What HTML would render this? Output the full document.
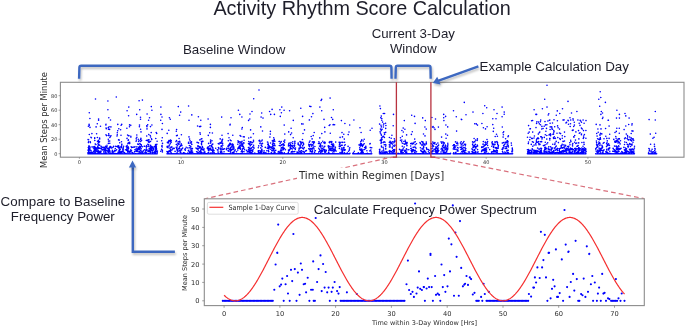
<!DOCTYPE html>
<html><head><meta charset="utf-8"><style>
html,body{margin:0;padding:0;background:#fff;}
svg{display:block;}
</style></head><body>
<svg width="685" height="327" viewBox="0 0 685 327">
<rect width="685" height="327" fill="#fff"/>
<defs>
<filter id="sh" x="-20%" y="-20%" width="140%" height="160%"><feGaussianBlur in="SourceAlpha" stdDeviation="1"/><feOffset dx="0.5" dy="1.5"/><feComponentTransfer><feFuncA type="linear" slope="0.25"/></feComponentTransfer><feMerge><feMergeNode/><feMergeNode in="SourceGraphic"/></feMerge></filter>
</defs>
<!-- title -->
<text x="213.4" y="15.2" style='font-family:"Liberation Sans",Arial,sans-serif' font-size="19.8" fill="#1e1e2a" textLength="297.3" lengthAdjust="spacingAndGlyphs">Activity Rhythm Score Calculation</text>
<g style='font-family:"Liberation Sans",Arial,sans-serif' font-size="13.35" fill="#1e1e2a">
<text x="182.9" y="53.6" textLength="102.5" lengthAdjust="spacingAndGlyphs">Baseline Window</text>
<text x="371.7" y="38.2" textLength="83.2" lengthAdjust="spacingAndGlyphs">Current 3-Day</text>
<text x="390" y="53.3" textLength="46.6" lengthAdjust="spacingAndGlyphs">Window</text>
<text x="479.6" y="70.8" textLength="149.3" lengthAdjust="spacingAndGlyphs">Example Calculation Day</text>
<text x="0.6" y="205.9" textLength="124.7" lengthAdjust="spacingAndGlyphs">Compare to Baseline</text>
<text x="10.8" y="221.1" textLength="104" lengthAdjust="spacingAndGlyphs">Frequency Power</text>
</g>
<!-- top plot -->
<rect x="60.4" y="82.3" width="623.6" height="74.9" fill="none" stroke="#8c8c8c" stroke-width="1.1"/>
<g stroke="#777" stroke-width="0.7"><line x1="58.6" y1="153.7" x2="60.4" y2="153.7"/><line x1="58.6" y1="139.2" x2="60.4" y2="139.2"/><line x1="58.6" y1="124.7" x2="60.4" y2="124.7"/><line x1="58.6" y1="110.2" x2="60.4" y2="110.2"/><line x1="58.6" y1="95.7" x2="60.4" y2="95.7"/><line x1="79.4" y1="157.2" x2="79.4" y2="158.8"/><line x1="181.1" y1="157.2" x2="181.1" y2="158.8"/><line x1="282.8" y1="157.2" x2="282.8" y2="158.8"/><line x1="384.5" y1="157.2" x2="384.5" y2="158.8"/><line x1="486.2" y1="157.2" x2="486.2" y2="158.8"/><line x1="587.9" y1="157.2" x2="587.9" y2="158.8"/></g>
<g style='font-family:"DejaVu Sans",sans-serif' font-size="5" fill="#2e2e2e"><text x="57.4" y="155.5" text-anchor="end">0</text><text x="57.4" y="141.0" text-anchor="end">20</text><text x="57.4" y="126.5" text-anchor="end">40</text><text x="57.4" y="112.0" text-anchor="end">60</text><text x="57.4" y="97.5" text-anchor="end">80</text><text x="79.4" y="163.8" text-anchor="middle">0</text><text x="181.1" y="163.8" text-anchor="middle">10</text><text x="282.8" y="163.8" text-anchor="middle">20</text><text x="384.5" y="163.8" text-anchor="middle">30</text><text x="486.2" y="163.8" text-anchor="middle">40</text><text x="587.9" y="163.8" text-anchor="middle">50</text></g>
<text transform="translate(47.2 168) rotate(-90)" style='font-family:"DejaVu Sans",sans-serif' font-size="8.6" fill="#2a2a2a" textLength="96" lengthAdjust="spacingAndGlyphs">Mean Steps per Minute</text>
<path d="M87.9 153.7h0M88.8 153.7h0M89.7 153.7h0M90.6 153.7h0M91.5 153.7h0M92.4 153.7h0M93.3 153.7h0M94.2 153.7h0M95.1 153.7h0M96.0 153.7h0M96.9 153.7h0M97.8 153.7h0M98.7 153.7h0M99.6 153.7h0M100.5 153.7h0M101.4 153.7h0M102.3 153.7h0M103.2 153.7h0M104.1 153.7h0M105.0 153.7h0M105.9 153.7h0M106.8 153.7h0M107.7 153.7h0M108.6 153.7h0M109.5 153.7h0M110.4 153.7h0M111.3 153.7h0M112.2 153.7h0M113.1 153.7h0M114.0 153.7h0M114.9 153.7h0M115.8 153.7h0M116.7 153.7h0M117.6 153.7h0M118.5 153.7h0M119.4 153.7h0M120.3 153.7h0M121.2 153.7h0M122.1 153.7h0M123.0 153.7h0M123.9 153.7h0M124.8 153.7h0M125.7 153.7h0M126.6 153.7h0M127.5 153.7h0M128.4 153.7h0M129.3 153.7h0M130.2 153.7h0M131.1 153.7h0M132.0 153.7h0M132.9 153.7h0M133.8 153.7h0M134.7 153.7h0M135.6 153.7h0M136.5 153.7h0M137.4 153.7h0M138.3 153.7h0M139.2 153.7h0M140.1 153.7h0M141.0 153.7h0M141.9 153.7h0M142.8 153.7h0M143.7 153.7h0M144.6 153.7h0M145.5 153.7h0M146.4 153.7h0M147.3 153.7h0M148.2 153.7h0M149.1 153.7h0M150.0 153.7h0M150.9 153.7h0M151.8 153.7h0M152.7 153.7h0M153.6 153.7h0M154.5 153.7h0M155.4 153.7h0M156.3 153.7h0M157.2 153.7h0M89.5 152.4h0M96.0 147.8h0M96.9 150.7h0M148.6 150.3h0M107.3 151.0h0M98.4 151.9h0M104.1 149.2h0M106.2 150.5h0M113.6 146.4h0M136.0 149.0h0M135.0 146.8h0M143.4 150.7h0M95.1 153.2h0M92.6 152.5h0M111.6 153.7h0M98.4 150.9h0M130.6 151.8h0M112.1 152.8h0M120.3 153.0h0M95.0 151.7h0M145.6 153.5h0M154.1 152.6h0M125.7 149.7h0M136.4 150.9h0M110.8 147.5h0M139.4 149.8h0M112.6 153.5h0M107.3 148.4h0M154.5 146.6h0M113.3 152.0h0M101.6 148.9h0M121.3 147.6h0M93.8 146.8h0M121.2 147.7h0M155.5 150.6h0M99.7 152.5h0M156.1 151.0h0M126.1 153.6h0M155.5 149.7h0M152.9 147.1h0M145.4 151.8h0M108.3 149.2h0M106.0 152.7h0M151.2 150.2h0M122.8 149.7h0M89.2 152.3h0M99.9 148.2h0M126.6 149.8h0M95.3 151.8h0M123.2 147.9h0M151.4 149.0h0M123.1 148.4h0M119.4 150.1h0M106.0 146.5h0M146.4 152.8h0M118.7 151.9h0M133.9 147.0h0M155.2 146.4h0M115.6 146.2h0M145.8 150.4h0M123.8 152.2h0M89.3 150.3h0M89.2 148.9h0M123.6 146.2h0M95.2 153.4h0M142.1 152.7h0M144.9 152.6h0M151.9 148.4h0M94.1 148.5h0M117.5 146.6h0M119.5 149.5h0M152.4 152.7h0M124.6 152.9h0M99.1 152.2h0M109.6 147.9h0M108.1 152.3h0M112.1 151.8h0M126.3 150.1h0M153.0 147.5h0M118.0 147.3h0M115.3 148.5h0M156.3 147.4h0M137.1 150.6h0M112.1 152.7h0M105.7 153.1h0M134.6 151.9h0M108.3 152.5h0M118.9 146.4h0M155.6 151.8h0M155.1 151.0h0M88.0 150.1h0M122.9 149.9h0M88.2 153.0h0M115.7 153.5h0M109.1 149.2h0M149.1 151.2h0M156.4 148.2h0M132.7 147.3h0M150.0 148.1h0M144.4 149.7h0M103.9 152.7h0M113.0 147.3h0M126.8 148.9h0M135.3 153.7h0M122.9 148.7h0M105.5 151.7h0M138.7 148.1h0M155.8 150.8h0M141.3 148.8h0M93.3 151.8h0M139.6 149.4h0M88.8 151.7h0M134.9 149.8h0M120.2 152.8h0M150.1 146.2h0M153.1 150.2h0M119.2 152.1h0M153.7 149.3h0M97.8 146.4h0M136.9 146.9h0M121.7 153.7h0M122.1 151.4h0M97.7 151.3h0M146.4 148.0h0M146.3 146.6h0M108.1 150.7h0M157.4 151.0h0M117.7 153.3h0M105.3 149.8h0M101.1 146.4h0M153.4 148.2h0M132.8 153.3h0M152.4 150.1h0M111.8 148.1h0M155.9 148.7h0M108.8 150.7h0M99.5 152.1h0M151.0 152.0h0M119.2 152.2h0M94.2 153.0h0M104.5 149.4h0M116.6 149.7h0M114.1 153.2h0M96.7 148.9h0M148.0 151.6h0M105.2 150.3h0M148.7 153.5h0M120.8 153.7h0M155.6 152.9h0M98.6 148.5h0M119.7 153.4h0M142.3 146.7h0M132.8 152.7h0M105.4 148.4h0M95.7 149.7h0M128.5 152.0h0M129.7 151.4h0M121.0 151.8h0M109.3 149.9h0M134.8 151.7h0M103.7 151.1h0M139.3 152.1h0M155.4 147.5h0M104.0 147.9h0M122.4 152.0h0M116.9 146.5h0M98.1 152.1h0M155.7 153.3h0M92.1 146.9h0M110.8 146.6h0M139.8 148.6h0M114.3 151.2h0M99.7 151.6h0M102.3 147.4h0M145.1 153.3h0M120.9 146.7h0M101.3 146.9h0M90.0 147.5h0M141.3 153.4h0M150.4 151.6h0M154.6 151.7h0M137.8 151.6h0M151.7 146.5h0M89.6 150.1h0M114.8 150.4h0M141.7 151.2h0M110.1 147.7h0M93.4 148.0h0M105.1 153.4h0M126.4 146.2h0M106.3 153.0h0M119.0 150.5h0M134.1 147.3h0M108.3 150.9h0M139.3 151.8h0M105.0 147.0h0M128.1 150.7h0M157.0 151.9h0M144.2 146.2h0M95.0 147.5h0M90.7 152.8h0M119.2 147.8h0M153.7 149.2h0M131.0 150.9h0M97.7 151.8h0M129.6 152.2h0M88.7 148.5h0M100.8 152.2h0M143.3 153.2h0M95.0 149.5h0M132.4 152.5h0M136.3 151.5h0M109.6 151.0h0M157.3 152.2h0M138.6 153.7h0M150.7 147.5h0M120.0 153.6h0M126.3 146.8h0M94.1 150.9h0M123.0 151.5h0M95.5 147.6h0M155.2 152.7h0M121.5 146.6h0M103.4 147.3h0M145.6 152.0h0M115.7 150.8h0M96.5 148.2h0M150.4 149.4h0M140.6 147.3h0M96.1 149.5h0M131.5 150.5h0M128.5 148.7h0M119.0 153.5h0M131.0 151.9h0M119.8 150.1h0M95.4 150.4h0M94.3 149.8h0M90.7 153.1h0M123.5 149.9h0M144.6 146.2h0M151.7 147.7h0M152.7 151.0h0M140.5 146.9h0M97.9 146.7h0M102.4 149.8h0M110.1 152.3h0M95.9 148.9h0M126.5 147.0h0M131.7 147.6h0M128.1 147.9h0M118.7 148.0h0M105.6 146.2h0M128.7 151.3h0M88.0 152.6h0M130.8 149.8h0M150.2 152.0h0M133.4 153.7h0M112.6 151.0h0M103.5 149.2h0M102.1 150.1h0M104.9 153.0h0M142.3 151.7h0M88.7 149.4h0M112.3 150.3h0M91.0 150.6h0M104.4 147.8h0M88.8 146.5h0M97.8 149.1h0M123.2 147.5h0M100.1 151.4h0M139.8 148.0h0M119.4 152.9h0M104.1 151.1h0M106.4 150.4h0M142.8 151.7h0M89.0 151.9h0M139.8 147.0h0M110.8 146.8h0M127.6 152.1h0M131.2 146.8h0M98.0 152.9h0M152.6 152.6h0M89.9 148.4h0M139.2 149.2h0M167.0 153.7h0M167.9 153.7h0M168.8 153.7h0M169.7 153.7h0M170.6 153.7h0M171.5 153.7h0M172.4 153.7h0M173.3 153.7h0M174.2 153.7h0M175.1 153.7h0M176.0 153.7h0M176.9 153.7h0M177.8 153.7h0M178.7 153.7h0M179.6 153.7h0M180.5 153.7h0M181.4 153.7h0M182.3 153.7h0M183.2 153.7h0M184.1 153.7h0M185.0 153.7h0M185.9 153.7h0M186.8 153.7h0M187.7 153.7h0M188.6 153.7h0M189.5 153.7h0M190.4 153.7h0M191.3 153.7h0M192.2 153.7h0M193.1 153.7h0M194.0 153.7h0M194.9 153.7h0M195.8 153.7h0M196.7 153.7h0M197.6 153.7h0M198.5 153.7h0M199.4 153.7h0M200.3 153.7h0M201.2 153.7h0M202.1 153.7h0M203.0 153.7h0M203.9 153.7h0M204.8 153.7h0M205.7 153.7h0M206.6 153.7h0M207.5 153.7h0M208.4 153.7h0M209.3 153.7h0M210.2 153.7h0M211.1 153.7h0M212.0 153.7h0M212.9 153.7h0M213.8 153.7h0M214.7 153.7h0M215.6 153.7h0M216.5 153.7h0M217.4 153.7h0M218.3 153.7h0M219.2 153.7h0M220.1 153.7h0M221.0 153.7h0M221.9 153.7h0M222.8 153.7h0M223.7 153.7h0M224.6 153.7h0M225.5 153.7h0M226.4 153.7h0M227.3 153.7h0M228.2 153.7h0M229.1 153.7h0M230.0 153.7h0M230.9 153.7h0M231.8 153.7h0M232.7 153.7h0M233.6 153.7h0M234.5 153.7h0M235.4 153.7h0M236.3 153.7h0M237.2 153.7h0M238.1 153.7h0M239.0 153.7h0M239.9 153.7h0M240.8 153.7h0M241.7 153.7h0M242.6 153.7h0M243.5 153.7h0M244.4 153.7h0M245.3 153.7h0M246.2 153.7h0M247.1 153.7h0M248.0 153.7h0M248.9 153.7h0M249.8 153.7h0M250.7 153.7h0M251.6 153.7h0M252.5 153.7h0M253.4 153.7h0M254.3 153.7h0M255.2 153.7h0M256.1 153.7h0M257.0 153.7h0M257.9 153.7h0M258.8 153.7h0M259.7 153.7h0M260.6 153.7h0M261.5 153.7h0M262.4 153.7h0M263.3 153.7h0M264.2 153.7h0M265.1 153.7h0M266.0 153.7h0M266.9 153.7h0M267.8 153.7h0M268.7 153.7h0M269.6 153.7h0M270.5 153.7h0M271.4 153.7h0M272.3 153.7h0M273.2 153.7h0M274.1 153.7h0M275.0 153.7h0M275.9 153.7h0M276.8 153.7h0M277.7 153.7h0M278.6 153.7h0M279.5 153.7h0M280.4 153.7h0M281.3 153.7h0M282.2 153.7h0M283.1 153.7h0M284.0 153.7h0M284.9 153.7h0M285.8 153.7h0M286.7 153.7h0M287.6 153.7h0M288.5 153.7h0M289.4 153.7h0M290.3 153.7h0M291.2 153.7h0M292.1 153.7h0M293.0 153.7h0M293.9 153.7h0M294.8 153.7h0M295.7 153.7h0M296.6 153.7h0M297.5 153.7h0M298.4 153.7h0M299.3 153.7h0M300.2 153.7h0M301.1 153.7h0M302.0 153.7h0M302.9 153.7h0M303.8 153.7h0M304.7 153.7h0M305.6 153.7h0M306.5 153.7h0M307.4 153.7h0M308.3 153.7h0M309.2 153.7h0M310.1 153.7h0M311.0 153.7h0M311.9 153.7h0M312.8 153.7h0M313.7 153.7h0M314.6 153.7h0M315.5 153.7h0M316.4 153.7h0M317.3 153.7h0M318.2 153.7h0M319.1 153.7h0M320.0 153.7h0M320.9 153.7h0M321.8 153.7h0M322.7 153.7h0M323.6 153.7h0M324.5 153.7h0M325.4 153.7h0M326.3 153.7h0M327.2 153.7h0M328.1 153.7h0M329.0 153.7h0M329.9 153.7h0M330.8 153.7h0M331.7 153.7h0M332.6 153.7h0M333.5 153.7h0M334.4 153.7h0M335.3 153.7h0M336.2 153.7h0M337.1 153.7h0M338.0 153.7h0M338.9 153.7h0M339.8 153.7h0M340.7 153.7h0M341.6 153.7h0M342.5 153.7h0M343.4 153.7h0M344.3 153.7h0M345.2 153.7h0M346.1 153.7h0M347.0 153.7h0M347.9 153.7h0M348.8 153.7h0M349.7 153.7h0M267.3 148.3h0M201.0 149.0h0M282.8 153.6h0M212.7 152.8h0M230.4 147.8h0M324.8 150.0h0M342.7 150.9h0M283.3 149.7h0M331.2 150.6h0M310.4 150.6h0M168.1 147.7h0M185.5 153.5h0M174.2 148.4h0M248.7 151.2h0M242.4 149.5h0M205.8 153.6h0M190.6 149.0h0M201.3 148.6h0M298.2 153.6h0M290.8 148.5h0M230.4 150.1h0M251.1 148.4h0M201.6 152.5h0M261.6 153.4h0M262.0 153.5h0M200.1 153.4h0M333.4 151.1h0M239.7 147.4h0M249.0 147.4h0M347.2 153.1h0M214.0 150.6h0M202.7 147.6h0M281.9 152.3h0M268.2 148.0h0M330.9 150.5h0M229.4 153.7h0M271.5 152.5h0M203.0 153.1h0M204.0 148.9h0M215.7 148.3h0M234.1 151.3h0M275.8 150.3h0M265.3 147.4h0M207.9 153.0h0M172.5 149.1h0M202.7 149.8h0M295.5 148.0h0M298.2 152.9h0M218.1 151.1h0M322.0 151.4h0M264.1 150.9h0M259.3 152.8h0M328.8 150.9h0M285.4 149.8h0M264.6 152.9h0M211.5 150.1h0M196.0 148.0h0M247.5 151.2h0M326.3 150.4h0M248.2 151.7h0M273.4 147.7h0M333.5 153.5h0M260.8 147.9h0M244.0 151.8h0M201.4 149.6h0M293.3 151.7h0M289.2 150.4h0M242.2 152.7h0M185.3 150.3h0M314.5 153.6h0M212.6 147.6h0M179.0 148.3h0M210.4 149.4h0M229.4 149.1h0M249.8 149.1h0M182.7 148.1h0M221.3 151.7h0M208.4 149.0h0M282.0 152.9h0M297.3 153.4h0M196.6 151.7h0M236.6 151.7h0M283.7 148.2h0M278.1 152.1h0M218.4 147.5h0M249.8 149.1h0M306.4 150.6h0M212.7 151.4h0M223.8 149.1h0M204.8 151.9h0M248.9 151.6h0M197.7 153.6h0M246.4 150.2h0M192.4 148.6h0M226.7 148.3h0M258.4 151.7h0M273.3 149.2h0M230.7 153.1h0M315.4 150.8h0M328.9 152.9h0M187.9 147.9h0M267.3 148.1h0M213.4 150.2h0M271.7 150.3h0M274.6 151.0h0M299.0 148.3h0M238.7 147.4h0M235.1 149.8h0M299.0 149.8h0M213.6 150.8h0M187.8 153.0h0M173.5 148.4h0M254.0 148.2h0M278.7 151.6h0M274.8 152.6h0M231.7 149.9h0M228.0 150.7h0M347.4 153.1h0M348.5 151.3h0M241.3 151.5h0M230.9 153.7h0M222.3 153.3h0M181.6 149.9h0M325.8 151.6h0M214.1 152.6h0M192.0 150.2h0M251.8 147.7h0M184.1 152.8h0M191.1 150.6h0M183.4 152.8h0M268.6 147.6h0M233.9 152.5h0M196.6 148.6h0M301.1 150.9h0M221.4 153.0h0M345.2 149.7h0M184.8 149.2h0M186.2 147.2h0M258.6 151.4h0M179.6 150.4h0M233.3 149.2h0M211.0 152.9h0M333.2 150.7h0M344.7 150.5h0M207.5 147.6h0M210.6 148.3h0M325.7 152.0h0M189.5 152.1h0M249.8 151.1h0M271.4 152.5h0M235.0 150.8h0M305.5 151.1h0M240.5 149.3h0M207.4 148.4h0M185.6 148.8h0M270.2 149.3h0M203.9 150.2h0M268.7 151.6h0M283.9 148.1h0M204.8 153.1h0M292.5 153.3h0M294.2 148.2h0M269.5 147.7h0M266.8 150.7h0M291.2 148.3h0M265.9 152.8h0M336.1 151.1h0M251.4 150.3h0M288.3 152.6h0M254.8 153.1h0M204.2 152.1h0M329.9 149.6h0M297.0 152.1h0M192.7 152.3h0M230.9 147.4h0M312.0 151.6h0M170.0 148.4h0M220.4 151.9h0M263.4 152.6h0M231.4 150.1h0M304.1 152.3h0M230.5 150.3h0M224.1 151.8h0M247.2 152.0h0M224.6 148.8h0M211.5 150.1h0M217.3 149.8h0M226.5 149.6h0M244.5 149.6h0M218.7 148.9h0M175.1 151.4h0M250.2 153.0h0M352.8 153.7h0M353.7 153.7h0M354.6 153.7h0M355.5 153.7h0M356.4 153.7h0M357.3 153.7h0M358.2 153.7h0M359.1 153.7h0M360.0 153.7h0M360.9 153.7h0M361.8 153.7h0M362.7 153.7h0M363.6 153.7h0M364.5 153.7h0M365.4 153.7h0M366.3 153.7h0M367.2 153.7h0M368.1 153.7h0M369.0 153.7h0M369.9 153.7h0M370.8 153.7h0M371.7 153.7h0M360.3 150.1h0M363.3 152.3h0M361.5 150.5h0M367.4 153.3h0M353.5 152.7h0M370.9 150.0h0M354.3 151.3h0M352.9 153.2h0M366.9 150.7h0M360.9 152.7h0M358.8 153.4h0M358.3 152.9h0M379.5 153.7h0M380.4 153.7h0M381.3 153.7h0M382.2 153.7h0M383.1 153.7h0M384.0 153.7h0M384.9 153.7h0M385.8 153.7h0M386.7 153.7h0M387.6 153.7h0M388.5 153.7h0M389.4 153.7h0M390.3 153.7h0M391.2 153.7h0M392.1 153.7h0M393.0 153.7h0M393.9 153.7h0M394.8 153.7h0M395.7 153.7h0M396.6 153.7h0M397.5 153.7h0M398.4 153.7h0M399.3 153.7h0M400.2 153.7h0M401.1 153.7h0M402.0 153.7h0M402.9 153.7h0M403.8 153.7h0M404.7 153.7h0M405.6 153.7h0M406.5 153.7h0M407.4 153.7h0M408.3 153.7h0M409.2 153.7h0M410.1 153.7h0M411.0 153.7h0M411.9 153.7h0M412.8 153.7h0M413.7 153.7h0M414.6 153.7h0M415.5 153.7h0M416.4 153.7h0M417.3 153.7h0M418.2 153.7h0M419.1 153.7h0M420.0 153.7h0M420.9 153.7h0M421.8 153.7h0M422.7 153.7h0M423.6 153.7h0M424.5 153.7h0M425.4 153.7h0M426.3 153.7h0M427.2 153.7h0M428.1 153.7h0M429.0 153.7h0M429.9 153.7h0M430.8 153.7h0M431.7 153.7h0M432.6 153.7h0M433.5 153.7h0M434.4 153.7h0M435.3 153.7h0M436.2 153.7h0M437.1 153.7h0M438.0 153.7h0M438.9 153.7h0M439.8 153.7h0M440.7 153.7h0M441.6 153.7h0M442.5 153.7h0M443.4 153.7h0M444.3 153.7h0M445.2 153.7h0M446.1 153.7h0M447.0 153.7h0M447.9 153.7h0M448.8 153.7h0M449.7 153.7h0M450.6 153.7h0M392.4 150.9h0M416.5 151.7h0M444.3 152.8h0M428.3 149.6h0M443.2 152.7h0M408.8 149.7h0M387.0 152.4h0M393.4 149.8h0M414.1 150.8h0M393.8 151.4h0M384.5 152.9h0M429.5 152.7h0M450.5 153.2h0M398.1 153.3h0M385.9 151.5h0M387.1 152.0h0M399.5 149.4h0M401.1 150.4h0M387.2 153.0h0M420.8 150.4h0M403.0 150.2h0M395.8 153.4h0M394.4 151.5h0M386.1 152.2h0M446.0 149.6h0M437.1 152.3h0M382.2 153.2h0M432.5 151.4h0M428.4 151.8h0M429.2 150.2h0M445.9 149.7h0M438.1 151.6h0M443.7 151.7h0M402.1 152.8h0M384.1 151.3h0M453.2 153.7h0M454.1 153.7h0M455.0 153.7h0M455.9 153.7h0M456.8 153.7h0M457.7 153.7h0M458.6 153.7h0M459.5 153.7h0M460.4 153.7h0M461.3 153.7h0M462.2 153.7h0M463.1 153.7h0M464.0 153.7h0M464.9 153.7h0M465.8 153.7h0M466.7 153.7h0M467.6 153.7h0M468.5 153.7h0M469.4 153.7h0M470.3 153.7h0M471.2 153.7h0M472.1 153.7h0M473.0 153.7h0M473.9 153.7h0M474.8 153.7h0M475.7 153.7h0M476.6 153.7h0M477.5 153.7h0M478.4 153.7h0M479.3 153.7h0M480.2 153.7h0M481.1 153.7h0M482.0 153.7h0M482.9 153.7h0M483.8 153.7h0M484.7 153.7h0M485.6 153.7h0M486.5 153.7h0M487.4 153.7h0M488.3 153.7h0M489.2 153.7h0M490.1 153.7h0M491.0 153.7h0M491.9 153.7h0M492.8 153.7h0M493.7 153.7h0M494.6 153.7h0M495.5 153.7h0M496.4 153.7h0M497.3 153.7h0M498.2 153.7h0M499.1 153.7h0M500.0 153.7h0M500.9 153.7h0M501.8 153.7h0M502.7 153.7h0M503.6 153.7h0M504.5 153.7h0M505.4 153.7h0M506.3 153.7h0M507.2 153.7h0M508.1 153.7h0M509.0 153.7h0M509.9 153.7h0M510.8 153.7h0M511.7 153.7h0M512.6 153.7h0M464.0 153.3h0M463.1 153.2h0M507.1 152.7h0M462.5 151.3h0M472.4 151.2h0M493.3 153.5h0M469.5 152.1h0M468.4 152.0h0M475.8 152.1h0M464.4 150.8h0M472.4 152.3h0M512.1 152.0h0M465.9 153.3h0M497.0 152.7h0M489.7 149.6h0M484.3 149.8h0M457.1 151.0h0M483.1 150.4h0M465.1 150.4h0M481.9 150.9h0M505.2 152.6h0M465.7 150.4h0M504.8 152.1h0M492.5 151.8h0M478.0 151.8h0M495.9 152.1h0M466.5 153.3h0M486.5 149.9h0M527.4 153.7h0M528.3 153.7h0M529.2 153.7h0M530.1 153.7h0M531.0 153.7h0M531.9 153.7h0M532.8 153.7h0M533.7 153.7h0M534.6 153.7h0M535.5 153.7h0M536.4 153.7h0M537.3 153.7h0M538.2 153.7h0M539.1 153.7h0M540.0 153.7h0M540.9 153.7h0M541.8 153.7h0M542.7 153.7h0M543.6 153.7h0M544.5 153.7h0M545.4 153.7h0M546.3 153.7h0M547.2 153.7h0M548.1 153.7h0M549.0 153.7h0M549.9 153.7h0M550.8 153.7h0M551.7 153.7h0M552.6 153.7h0M553.5 153.7h0M554.4 153.7h0M555.3 153.7h0M556.2 153.7h0M557.1 153.7h0M558.0 153.7h0M558.9 153.7h0M559.8 153.7h0M560.7 153.7h0M561.6 153.7h0M562.5 153.7h0M563.4 153.7h0M564.3 153.7h0M565.2 153.7h0M566.1 153.7h0M567.0 153.7h0M567.9 153.7h0M568.8 153.7h0M569.7 153.7h0M570.6 153.7h0M571.5 153.7h0M572.4 153.7h0M573.3 153.7h0M574.2 153.7h0M575.1 153.7h0M576.0 153.7h0M576.9 153.7h0M577.8 153.7h0M578.7 153.7h0M579.6 153.7h0M580.5 153.7h0M581.4 153.7h0M582.3 153.7h0M583.2 153.7h0M584.1 153.7h0M585.0 153.7h0M585.9 153.7h0M560.8 148.3h0M549.3 151.8h0M572.2 153.1h0M580.1 152.9h0M564.7 148.1h0M537.7 151.1h0M541.4 150.8h0M557.2 150.2h0M586.2 151.8h0M528.1 153.4h0M561.6 151.5h0M551.3 149.5h0M572.2 148.6h0M566.6 148.4h0M549.8 149.3h0M563.8 150.5h0M585.9 151.0h0M583.3 151.8h0M579.1 149.1h0M574.6 151.5h0M583.6 150.7h0M574.8 150.5h0M528.5 150.8h0M582.6 148.8h0M582.2 151.8h0M536.6 151.9h0M557.3 148.9h0M575.8 148.2h0M575.2 153.7h0M581.7 149.7h0M560.8 152.2h0M559.4 148.7h0M579.9 149.7h0M567.1 149.2h0M572.6 153.1h0M536.8 151.7h0M579.3 153.3h0M571.8 149.8h0M532.3 149.8h0M553.9 151.7h0M544.7 149.4h0M540.0 152.1h0M578.3 152.2h0M572.7 151.2h0M566.3 150.7h0M576.3 149.3h0M570.5 148.0h0M533.7 150.7h0M552.5 151.9h0M539.6 152.8h0M579.9 149.2h0M558.8 153.3h0M575.8 153.3h0M540.6 150.9h0M564.3 151.1h0M541.1 152.6h0M560.5 148.0h0M565.1 151.8h0M569.8 152.4h0M569.0 149.5h0M585.6 148.6h0M546.0 149.1h0M556.3 149.2h0M527.4 149.8h0M566.9 150.6h0M539.1 151.7h0M536.1 152.2h0M557.8 148.6h0M582.8 149.3h0M583.8 151.8h0M546.3 151.2h0M580.4 148.8h0M545.6 148.5h0M543.5 153.0h0M549.1 152.7h0M553.7 150.6h0M555.5 152.9h0M579.7 149.6h0M529.8 153.0h0M578.2 152.4h0M580.0 150.5h0M582.9 148.8h0M562.8 148.1h0M570.1 149.7h0M583.8 149.6h0M575.5 153.5h0M581.9 153.5h0M571.0 152.8h0M561.8 151.3h0M583.2 151.3h0M574.7 148.6h0M552.2 152.3h0M585.7 153.6h0M546.8 153.0h0M552.1 148.4h0M572.2 149.5h0M585.1 152.5h0M532.7 149.5h0M541.5 148.6h0M582.8 151.0h0M546.5 148.5h0M576.8 152.2h0M554.5 153.3h0M570.6 149.0h0M563.8 150.3h0M552.2 148.3h0M570.5 152.4h0M575.4 149.5h0M583.6 150.2h0M547.6 153.0h0M560.5 151.9h0M557.8 150.3h0M536.6 151.2h0M581.0 152.6h0M535.2 151.8h0M581.8 148.0h0M549.9 152.9h0M558.5 152.7h0M559.5 149.6h0M553.0 152.2h0M559.9 152.3h0M544.6 151.7h0M566.0 153.4h0M537.1 150.6h0M552.8 148.0h0M544.9 152.5h0M544.0 153.2h0M585.5 150.1h0M548.0 151.2h0M582.3 152.7h0M557.5 148.6h0M533.9 152.3h0M528.5 152.9h0M595.7 153.7h0M596.6 153.7h0M597.5 153.7h0M598.4 153.7h0M599.3 153.7h0M600.2 153.7h0M601.1 153.7h0M602.0 153.7h0M602.9 153.7h0M603.8 153.7h0M604.7 153.7h0M605.6 153.7h0M606.5 153.7h0M607.4 153.7h0M608.3 153.7h0M609.2 153.7h0M610.1 153.7h0M611.0 153.7h0M611.9 153.7h0M612.8 153.7h0M613.7 153.7h0M614.6 153.7h0M615.5 153.7h0M616.4 153.7h0M617.3 153.7h0M618.2 153.7h0M619.1 153.7h0M620.0 153.7h0M620.9 153.7h0M621.8 153.7h0M622.7 153.7h0M623.6 153.7h0M624.5 153.7h0M625.4 153.7h0M626.3 153.7h0M627.2 153.7h0M628.1 153.7h0M629.0 153.7h0M629.9 153.7h0M630.8 153.7h0M631.7 153.7h0M632.6 153.7h0M633.5 153.7h0M634.4 153.7h0M609.0 148.9h0M599.0 148.1h0M617.3 148.4h0M599.7 149.8h0M597.7 152.3h0M625.9 150.6h0M625.6 150.6h0M628.7 151.7h0M620.9 153.0h0M613.1 148.4h0M598.6 151.7h0M632.9 152.4h0M606.8 151.0h0M619.6 148.7h0M600.0 151.6h0M632.0 151.5h0M627.6 151.3h0M621.0 148.4h0M609.2 153.2h0M618.0 148.3h0M612.7 151.3h0M595.8 149.6h0M629.9 153.7h0M609.8 151.2h0M633.7 153.3h0M622.6 152.4h0M614.1 151.4h0M626.6 153.1h0M631.3 149.4h0M608.4 150.0h0M624.4 149.7h0M633.9 151.9h0M621.7 153.3h0M620.2 148.7h0M626.0 152.3h0M615.1 152.0h0M622.9 153.5h0M616.3 151.7h0M609.2 148.0h0M626.4 153.6h0M617.7 153.1h0M607.8 153.4h0M619.6 149.5h0M615.5 151.9h0M626.4 153.1h0M600.8 150.8h0M610.5 153.7h0M605.8 151.8h0M608.3 148.8h0M595.8 148.5h0M613.4 148.9h0M630.3 150.8h0M617.5 151.8h0M610.4 153.6h0M630.8 149.2h0M621.8 151.5h0M602.9 152.1h0M624.9 150.6h0M602.3 152.8h0M599.1 150.3h0M616.3 153.2h0M648.5 153.7h0M649.4 153.7h0M650.3 153.7h0M651.2 153.7h0M652.1 153.7h0M653.0 153.7h0M653.9 153.7h0M654.8 153.7h0M655.7 153.7h0M656.6 153.7h0M654.7 150.4h0M652.1 149.2h0M651.4 151.0h0M649.1 151.1h0M649.6 150.5h0M654.9 152.9h0M655.7 152.1h0M649.4 149.1h0M654.9 148.5h0M648.9 148.6h0M88.6 141.9h0M88.4 126.2h0M90.9 137.3h0M91.4 137.8h0M88.2 150.5h0M89.0 145.9h0M90.3 141.8h0M88.6 139.7h0M89.2 125.5h0M91.7 152.6h0M89.6 148.1h0M91.0 151.1h0M90.0 127.4h0M89.8 146.7h0M90.1 150.0h0M89.1 153.6h0M90.4 142.6h0M89.7 149.0h0M91.5 152.3h0M88.3 147.6h0M91.9 133.6h0M88.1 139.6h0M88.4 142.6h0M89.3 134.5h0M88.5 152.3h0M89.1 124.4h0M100.8 151.4h0M99.6 141.8h0M101.0 151.6h0M95.9 144.6h0M98.6 153.6h0M94.6 148.0h0M96.2 151.7h0M99.7 138.9h0M98.5 144.6h0M98.5 140.3h0M95.2 144.0h0M95.0 149.5h0M99.7 145.3h0M100.8 148.6h0M98.2 145.0h0M97.3 123.7h0M98.7 145.0h0M96.6 133.7h0M94.6 146.5h0M98.4 141.9h0M98.6 148.2h0M97.8 149.0h0M99.5 145.3h0M96.1 126.9h0M100.6 152.0h0M98.6 141.2h0M98.9 142.7h0M98.9 147.9h0M99.6 138.1h0M95.2 149.4h0M94.7 138.5h0M100.5 126.3h0M97.5 147.5h0M97.5 141.3h0M94.5 149.7h0M98.6 141.7h0M100.5 152.3h0M94.7 137.7h0M98.7 153.2h0M97.4 137.5h0M94.8 140.5h0M98.0 143.2h0M110.6 136.1h0M110.0 146.6h0M110.0 151.0h0M110.3 153.6h0M105.9 125.0h0M108.9 151.9h0M108.7 148.4h0M106.4 153.0h0M109.1 126.8h0M109.7 141.0h0M108.5 141.1h0M106.0 150.3h0M110.9 126.9h0M108.3 135.5h0M109.4 147.6h0M107.9 148.9h0M106.5 135.6h0M106.0 124.3h0M107.0 146.8h0M106.1 128.1h0M109.8 143.3h0M109.0 135.4h0M108.4 143.4h0M106.3 128.8h0M108.7 133.8h0M108.3 139.2h0M105.7 153.2h0M111.0 135.8h0M106.5 147.4h0M109.9 137.4h0M109.6 129.4h0M108.5 129.2h0M107.0 145.2h0M106.0 134.7h0M108.2 127.7h0M117.3 134.7h0M119.7 148.1h0M118.1 145.8h0M121.7 124.4h0M118.4 151.9h0M118.8 146.1h0M121.8 145.1h0M118.4 152.9h0M121.2 152.6h0M121.8 144.3h0M119.1 140.0h0M121.3 146.2h0M117.0 136.0h0M120.3 151.9h0M121.5 141.8h0M121.9 144.2h0M117.3 132.8h0M117.8 124.4h0M121.1 125.2h0M120.6 129.8h0M121.0 135.3h0M117.9 146.2h0M121.3 147.2h0M122.0 152.1h0M118.6 139.9h0M118.8 128.7h0M119.7 142.8h0M119.3 147.6h0M119.6 151.1h0M117.7 130.7h0M119.2 140.1h0M117.7 153.1h0M120.2 149.4h0M128.4 142.9h0M128.4 140.2h0M127.8 149.9h0M127.1 145.5h0M129.7 143.6h0M128.1 146.9h0M128.4 139.8h0M127.8 143.7h0M129.7 142.3h0M129.0 135.8h0M128.4 151.4h0M127.2 150.4h0M129.5 126.7h0M127.6 150.5h0M127.1 138.3h0M127.6 135.0h0M128.4 135.7h0M128.5 147.9h0M130.8 136.3h0M126.9 128.3h0M128.2 140.5h0M127.6 151.2h0M129.6 124.9h0M130.8 125.3h0M130.3 151.2h0M130.9 137.1h0M129.3 143.2h0M127.2 147.6h0M127.0 138.5h0M140.9 138.4h0M137.6 149.4h0M139.6 146.2h0M136.4 140.1h0M140.6 150.4h0M137.7 148.8h0M139.6 151.8h0M140.0 151.7h0M138.6 144.3h0M139.1 140.7h0M136.2 138.3h0M137.9 150.0h0M141.2 144.7h0M139.4 149.6h0M136.2 150.6h0M139.2 152.7h0M136.9 137.2h0M141.6 140.2h0M136.1 141.2h0M140.8 141.5h0M138.7 147.4h0M136.4 149.1h0M139.9 143.5h0M139.5 125.1h0M137.7 144.1h0M141.0 131.9h0M139.4 126.7h0M141.4 145.8h0M140.6 129.2h0M140.5 144.2h0M140.5 139.6h0M140.9 152.8h0M138.6 141.4h0M136.5 149.0h0M136.8 135.0h0M138.3 139.2h0M151.7 139.6h0M148.8 134.5h0M146.7 125.9h0M150.6 145.4h0M146.6 145.5h0M151.3 150.0h0M150.5 141.5h0M151.1 148.3h0M149.1 142.5h0M147.8 144.3h0M148.5 146.3h0M150.2 135.5h0M149.0 139.7h0M147.7 124.8h0M147.2 150.1h0M146.9 140.3h0M146.3 140.5h0M147.0 126.8h0M148.7 144.7h0M146.7 136.0h0M146.5 146.7h0M150.5 126.6h0M149.6 150.4h0M150.2 152.7h0M148.5 141.9h0M151.2 132.6h0M150.6 137.0h0M148.3 139.9h0M150.0 141.4h0M147.0 128.9h0M151.9 125.0h0M146.2 149.6h0M146.2 150.6h0M150.5 151.3h0M148.1 146.5h0M148.1 141.1h0M151.8 150.3h0M151.5 138.8h0M149.2 148.6h0M155.6 144.5h0M155.8 138.5h0M157.1 141.3h0M156.3 148.6h0M156.7 133.4h0M156.5 148.8h0M156.9 144.3h0M156.4 146.1h0M156.2 132.5h0M155.2 148.1h0M156.5 149.5h0M155.6 145.1h0M162.4 150.8h0M161.7 140.8h0M161.9 146.2h0M161.6 149.2h0M162.4 152.0h0M162.2 150.1h0M162.0 129.4h0M160.7 151.2h0M162.2 146.9h0M162.4 123.5h0M162.5 143.4h0M161.9 146.5h0M161.6 149.6h0M162.3 137.8h0M162.0 145.5h0M170.3 147.2h0M171.8 146.9h0M167.4 142.2h0M167.2 133.4h0M171.3 140.8h0M168.9 140.6h0M169.7 151.5h0M167.0 151.6h0M171.1 140.5h0M170.4 143.7h0M168.6 152.0h0M171.2 142.2h0M170.5 151.3h0M168.6 142.9h0M167.7 146.8h0M167.1 147.1h0M167.7 152.9h0M170.7 149.9h0M169.7 140.9h0M168.9 151.0h0M171.8 147.5h0M168.6 141.5h0M170.4 140.0h0M170.6 141.9h0M167.5 142.7h0M170.9 152.2h0M169.4 145.0h0M169.0 145.9h0M169.9 150.6h0M168.4 151.5h0M171.2 153.0h0M168.8 130.3h0M171.9 150.1h0M167.3 146.4h0M167.1 146.8h0M180.1 151.4h0M178.0 151.4h0M176.6 129.5h0M176.3 131.3h0M179.9 142.3h0M176.5 140.5h0M177.3 135.4h0M176.3 144.5h0M176.9 144.2h0M177.4 150.2h0M181.2 143.9h0M179.7 141.4h0M180.7 145.3h0M179.0 143.9h0M177.7 150.2h0M176.0 141.6h0M180.3 146.3h0M179.5 147.0h0M179.1 141.5h0M179.1 138.5h0M176.7 148.9h0M178.1 149.1h0M182.0 148.6h0M180.2 152.6h0M179.8 148.5h0M181.3 149.8h0M176.9 147.4h0M178.1 143.5h0M181.4 134.8h0M177.1 152.9h0M177.2 150.7h0M178.9 144.4h0M178.5 144.0h0M178.0 142.0h0M180.5 150.3h0M177.6 151.1h0M181.8 145.8h0M176.3 147.4h0M181.9 145.2h0M176.5 135.7h0M180.9 152.3h0M177.4 145.8h0M188.3 150.7h0M191.7 150.5h0M191.9 151.1h0M189.5 153.2h0M191.2 142.5h0M189.3 151.7h0M190.9 143.0h0M188.8 150.2h0M191.4 152.6h0M190.9 146.9h0M189.0 136.9h0M190.7 152.4h0M190.6 152.9h0M191.4 148.8h0M190.1 140.9h0M190.6 142.9h0M190.0 145.8h0M189.7 147.8h0M188.9 143.2h0M191.5 141.9h0M188.5 143.3h0M191.1 150.8h0M191.8 144.4h0M189.4 145.5h0M189.6 139.1h0M191.0 143.1h0M188.5 142.2h0M190.4 151.8h0M201.2 139.0h0M198.5 142.9h0M200.8 153.3h0M201.6 144.8h0M200.2 147.5h0M201.0 153.4h0M200.1 153.1h0M202.4 149.3h0M198.3 150.1h0M199.5 126.6h0M200.4 147.1h0M200.9 147.5h0M197.1 142.4h0M197.7 146.1h0M200.2 151.5h0M201.1 151.8h0M199.9 139.9h0M197.3 152.0h0M200.3 134.3h0M197.7 148.3h0M202.9 141.4h0M198.5 146.1h0M199.3 151.8h0M199.5 147.9h0M200.0 132.7h0M201.4 143.7h0M198.2 152.8h0M198.2 148.4h0M201.4 141.5h0M197.6 126.0h0M200.7 126.4h0M199.7 153.6h0M201.7 142.8h0M197.9 146.1h0M200.6 150.6h0M200.4 151.1h0M201.9 138.8h0M199.6 146.9h0M197.7 149.3h0M198.0 148.8h0M202.3 141.2h0M202.4 146.5h0M209.2 148.9h0M212.1 144.7h0M209.7 145.9h0M212.9 148.9h0M212.8 144.1h0M210.8 142.7h0M210.4 127.4h0M211.1 145.8h0M208.7 152.2h0M208.9 148.4h0M208.7 152.2h0M211.0 150.1h0M211.2 153.7h0M211.6 146.6h0M210.1 148.4h0M210.6 140.0h0M209.7 132.8h0M212.0 146.5h0M212.2 150.0h0M208.1 147.1h0M212.8 147.7h0M210.5 143.1h0M210.6 141.5h0M208.2 146.7h0M213.0 149.5h0M212.0 140.8h0M208.1 148.9h0M212.2 144.2h0M212.4 133.0h0M208.3 150.1h0M208.6 143.4h0M210.9 149.2h0M208.3 135.4h0M210.4 124.4h0M209.0 150.5h0M221.1 146.2h0M221.9 148.9h0M221.3 153.6h0M220.4 143.2h0M220.2 138.9h0M222.8 145.2h0M222.9 149.4h0M218.5 153.5h0M222.6 139.2h0M222.7 143.2h0M221.0 151.9h0M221.7 151.3h0M220.8 149.5h0M222.4 143.2h0M222.1 147.1h0M220.2 142.8h0M222.4 143.7h0M219.1 144.0h0M221.9 140.0h0M221.6 143.0h0M222.2 141.1h0M220.2 148.0h0M220.6 149.1h0M218.3 143.6h0M221.5 141.8h0M218.1 152.7h0M220.8 150.0h0M220.6 152.5h0M222.8 153.4h0M221.3 145.9h0M222.2 140.7h0M221.4 153.1h0M222.1 140.9h0M222.0 135.3h0M220.0 142.8h0M228.3 145.6h0M232.3 145.1h0M232.4 144.1h0M233.4 146.1h0M230.9 150.8h0M229.7 144.5h0M228.9 144.9h0M232.4 152.6h0M230.3 151.8h0M233.9 147.0h0M228.2 148.6h0M231.9 146.6h0M229.6 144.0h0M231.1 140.7h0M228.5 146.7h0M232.6 149.1h0M233.1 144.5h0M228.0 146.6h0M230.7 148.1h0M229.4 144.8h0M228.3 140.8h0M229.7 145.4h0M230.2 124.2h0M228.8 150.7h0M230.7 144.2h0M233.3 152.6h0M228.7 151.2h0M230.6 143.5h0M233.8 147.3h0M231.9 145.0h0M233.3 152.8h0M229.0 137.8h0M232.6 144.9h0M228.1 133.6h0M229.9 143.4h0M234.0 148.2h0M230.0 124.9h0M230.2 140.0h0M230.6 148.9h0M232.3 145.9h0M233.1 147.5h0M232.8 135.3h0M242.3 127.5h0M243.9 147.9h0M237.8 148.3h0M237.8 150.1h0M243.8 148.3h0M242.8 144.2h0M240.9 142.1h0M242.7 145.6h0M242.9 146.8h0M240.9 136.2h0M239.9 148.5h0M242.1 141.2h0M243.8 148.3h0M240.0 145.1h0M238.0 140.9h0M238.2 142.5h0M244.2 136.9h0M242.6 151.4h0M243.3 136.8h0M239.2 146.3h0M240.1 147.0h0M244.1 140.2h0M243.6 142.9h0M240.2 145.6h0M242.5 144.1h0M240.2 145.2h0M241.9 150.6h0M237.8 144.2h0M241.9 129.0h0M240.3 148.1h0M242.5 148.8h0M240.5 148.5h0M240.4 153.5h0M244.1 143.0h0M241.9 143.0h0M243.4 146.5h0M239.2 141.8h0M241.9 144.6h0M239.0 148.3h0M241.5 145.9h0M239.9 143.3h0M240.1 135.6h0M240.2 142.0h0M241.3 144.0h0M241.3 153.7h0M253.8 147.7h0M253.5 141.7h0M248.4 147.6h0M251.6 152.9h0M253.1 149.7h0M248.5 149.5h0M251.3 152.4h0M249.9 144.6h0M250.3 151.0h0M248.5 143.5h0M249.1 144.2h0M248.7 138.0h0M249.2 152.2h0M248.8 141.5h0M253.5 140.2h0M251.6 144.4h0M251.1 142.0h0M250.0 144.1h0M253.8 147.3h0M250.6 148.3h0M252.8 146.7h0M249.9 142.9h0M249.0 150.5h0M252.0 150.1h0M249.6 148.7h0M253.4 133.7h0M250.5 150.3h0M250.9 153.3h0M250.5 141.9h0M250.0 152.3h0M252.2 142.5h0M252.4 151.0h0M249.7 152.3h0M253.6 145.2h0M250.4 145.7h0M252.7 151.7h0M252.2 142.6h0M250.6 129.9h0M250.1 145.3h0M250.9 137.4h0M262.1 146.4h0M260.7 152.8h0M262.1 150.9h0M262.3 143.3h0M261.7 141.0h0M258.3 150.8h0M261.2 152.6h0M258.7 145.9h0M260.3 152.8h0M260.6 151.8h0M258.3 147.7h0M258.8 150.8h0M261.7 149.7h0M258.4 153.3h0M261.2 145.5h0M262.5 143.6h0M262.5 131.0h0M260.2 141.9h0M259.9 152.6h0M259.0 140.8h0M259.5 140.2h0M261.5 151.6h0M259.8 140.6h0M260.1 150.8h0M258.2 153.4h0M261.9 149.3h0M262.2 140.1h0M260.8 126.9h0M259.9 143.5h0M261.3 144.0h0M261.8 151.7h0M258.3 151.6h0M262.2 140.0h0M261.7 150.6h0M260.1 141.7h0M274.2 152.7h0M272.5 144.5h0M273.5 140.6h0M273.7 140.6h0M272.5 150.8h0M272.3 140.7h0M269.6 146.4h0M274.6 141.3h0M272.9 140.6h0M274.1 143.5h0M267.8 144.5h0M268.4 148.4h0M270.4 131.4h0M273.1 146.0h0M274.9 141.3h0M268.1 153.6h0M268.4 150.4h0M273.2 150.8h0M274.3 139.4h0M274.9 145.8h0M273.7 137.8h0M268.1 143.8h0M270.2 147.0h0M268.6 151.7h0M272.9 140.8h0M268.3 144.6h0M269.0 145.8h0M272.1 146.7h0M273.8 149.8h0M270.0 153.5h0M271.1 147.4h0M267.5 142.0h0M270.9 147.1h0M267.9 142.2h0M273.2 148.8h0M268.1 146.2h0M273.1 141.9h0M275.0 152.4h0M268.5 151.3h0M274.2 152.3h0M275.0 145.7h0M272.0 148.6h0M270.3 134.1h0M272.7 146.9h0M274.4 148.4h0M272.1 153.7h0M272.7 146.1h0M273.8 145.2h0M269.9 137.1h0M270.6 143.0h0M272.8 143.2h0M274.6 144.0h0M283.8 141.2h0M280.9 142.2h0M284.8 134.1h0M281.2 145.3h0M283.8 141.2h0M280.3 151.1h0M280.0 152.4h0M282.4 147.8h0M283.8 144.1h0M279.5 152.7h0M280.0 152.9h0M282.6 144.2h0M284.2 125.1h0M284.8 140.1h0M283.6 148.7h0M282.1 153.2h0M284.3 145.2h0M281.4 147.7h0M283.3 143.7h0M284.3 152.7h0M284.6 142.3h0M281.4 152.8h0M281.6 152.3h0M279.1 141.5h0M283.5 147.7h0M281.5 150.5h0M281.1 149.9h0M281.6 144.8h0M279.3 145.5h0M280.4 145.7h0M281.2 141.5h0M279.4 153.3h0M282.3 147.6h0M282.8 149.8h0M279.4 141.5h0M282.6 148.1h0M280.9 145.6h0M284.5 148.5h0M283.1 146.0h0M283.7 144.6h0M281.0 149.1h0M280.1 143.5h0M293.4 147.5h0M288.9 151.1h0M293.4 147.8h0M288.6 144.3h0M291.6 133.0h0M292.1 153.7h0M291.2 152.3h0M294.5 146.2h0M290.3 147.6h0M290.4 145.2h0M292.8 141.7h0M289.1 149.7h0M291.0 142.5h0M289.1 145.7h0M290.2 147.8h0M294.6 145.6h0M288.9 143.5h0M291.4 145.6h0M288.7 145.0h0M289.2 143.0h0M290.2 149.0h0M292.3 149.0h0M294.9 141.4h0M290.7 148.7h0M294.5 145.1h0M289.6 149.8h0M294.8 141.9h0M292.4 146.6h0M294.9 143.4h0M292.4 151.4h0M294.2 145.4h0M290.5 144.1h0M290.6 134.6h0M293.2 137.8h0M291.1 128.2h0M293.1 147.2h0M288.7 131.9h0M292.6 143.6h0M288.5 150.1h0M292.7 145.9h0M294.7 151.6h0M288.5 145.9h0M291.5 151.8h0M288.4 153.6h0M290.7 146.3h0M290.0 145.6h0M295.3 149.5h0M289.1 150.5h0M288.6 150.7h0M303.0 133.5h0M298.2 143.1h0M302.2 148.0h0M303.5 148.9h0M301.3 150.8h0M302.5 139.5h0M298.1 144.1h0M298.9 145.0h0M301.6 152.8h0M302.7 146.0h0M301.5 153.1h0M304.5 129.9h0M299.2 148.4h0M302.7 148.2h0M304.3 147.6h0M302.8 142.6h0M300.2 152.8h0M298.8 150.2h0M300.9 144.6h0M302.9 151.4h0M298.3 152.0h0M302.8 142.2h0M303.5 143.4h0M301.4 152.3h0M302.7 145.6h0M301.4 142.3h0M300.5 141.9h0M303.1 124.0h0M300.9 147.3h0M301.3 143.8h0M299.7 151.8h0M299.9 151.5h0M302.9 148.2h0M301.1 143.4h0M304.3 152.6h0M298.2 144.4h0M301.7 123.9h0M302.6 148.3h0M298.4 144.3h0M300.1 146.7h0M304.0 151.7h0M300.9 143.5h0M300.8 142.8h0M300.0 141.6h0M300.1 145.4h0M300.2 148.1h0M303.6 144.5h0M312.3 148.4h0M309.5 149.2h0M308.7 144.2h0M311.7 153.5h0M309.4 153.6h0M314.2 141.7h0M314.1 149.0h0M311.4 146.1h0M313.2 135.6h0M311.9 145.1h0M312.3 142.1h0M314.9 146.5h0M309.3 142.2h0M310.2 151.1h0M313.2 146.1h0M313.6 143.2h0M312.0 149.4h0M312.1 152.3h0M309.0 145.6h0M311.2 136.5h0M311.0 151.3h0M312.5 150.2h0M312.9 141.7h0M312.1 138.9h0M310.0 141.0h0M311.0 144.2h0M313.0 141.8h0M314.4 142.2h0M315.0 150.8h0M310.2 151.3h0M310.1 153.7h0M312.5 144.7h0M310.3 150.5h0M308.7 148.7h0M310.5 148.6h0M312.1 148.2h0M314.2 132.5h0M314.5 152.4h0M309.4 146.6h0M311.0 151.7h0M312.5 151.4h0M313.6 143.7h0M313.5 147.7h0M309.9 144.9h0M311.0 148.7h0M320.3 144.1h0M321.5 142.8h0M319.6 151.2h0M322.4 153.6h0M324.9 131.9h0M321.4 151.9h0M320.3 150.5h0M324.7 127.4h0M319.5 143.3h0M320.6 152.7h0M322.2 150.5h0M320.3 151.0h0M323.9 147.3h0M319.4 149.5h0M319.2 143.0h0M320.4 144.6h0M324.8 146.2h0M320.0 146.2h0M320.6 146.7h0M318.8 148.2h0M319.5 146.1h0M322.8 141.2h0M323.8 142.8h0M324.9 143.4h0M322.3 151.1h0M321.8 133.6h0M324.7 142.0h0M321.1 148.0h0M322.2 151.5h0M318.7 152.1h0M324.4 151.4h0M322.1 151.6h0M325.1 151.3h0M322.6 146.0h0M324.9 152.4h0M322.2 148.4h0M321.2 150.5h0M323.3 149.7h0M324.8 149.5h0M319.8 137.9h0M321.0 146.1h0M320.8 145.4h0M318.5 143.5h0M324.5 150.4h0M321.4 150.0h0M325.1 142.5h0M318.9 141.7h0M323.5 149.1h0M335.7 150.7h0M334.2 151.8h0M331.3 142.5h0M335.4 147.8h0M329.6 142.8h0M330.3 133.2h0M332.7 153.0h0M329.2 125.5h0M335.7 142.1h0M331.7 142.4h0M334.6 149.7h0M329.1 149.9h0M329.8 149.3h0M330.0 148.6h0M328.3 146.6h0M328.5 152.7h0M331.9 146.7h0M330.0 124.7h0M334.6 124.8h0M331.1 148.2h0M334.4 150.3h0M331.8 141.5h0M330.9 148.5h0M335.1 147.0h0M332.9 149.6h0M333.0 124.7h0M332.7 145.4h0M333.9 145.1h0M331.3 149.1h0M330.1 146.6h0M329.6 149.5h0M331.2 141.7h0M332.4 148.3h0M332.5 144.2h0M332.2 150.8h0M329.9 149.7h0M328.6 146.3h0M329.2 146.4h0M333.1 143.8h0M333.5 146.6h0M330.3 148.6h0M330.0 141.5h0M329.2 142.2h0M328.7 147.9h0M333.5 124.6h0M330.8 150.5h0M328.3 145.8h0M335.2 149.9h0M335.1 148.3h0M328.9 150.5h0M333.0 147.1h0M334.6 149.6h0M331.5 144.4h0M333.5 149.1h0M342.8 142.2h0M342.2 145.2h0M341.9 145.3h0M342.6 150.1h0M342.0 132.6h0M342.3 150.9h0M341.5 148.0h0M340.4 146.3h0M339.5 144.7h0M340.0 152.5h0M341.8 148.2h0M342.6 152.5h0M339.1 142.2h0M343.3 150.0h0M339.6 144.1h0M341.3 149.8h0M343.3 147.8h0M344.5 152.7h0M340.1 137.4h0M339.4 148.4h0M341.9 142.3h0M342.2 152.6h0M342.5 136.9h0M344.3 139.1h0M339.2 146.2h0M341.5 152.2h0M344.3 149.5h0M341.8 152.8h0M342.8 142.5h0M343.9 148.3h0M342.0 148.9h0M344.9 123.5h0M344.6 145.3h0M344.6 142.3h0M343.9 148.8h0M343.2 150.0h0M340.0 142.4h0M345.2 144.8h0M343.6 147.9h0M342.1 150.2h0M341.0 145.3h0M340.3 142.8h0M343.8 134.3h0M340.0 143.3h0M344.0 147.4h0M349.4 150.1h0M349.8 147.8h0M349.4 149.0h0M348.2 134.6h0M349.0 132.0h0M349.7 125.0h0M348.1 146.4h0M349.9 153.2h0M363.1 144.5h0M361.4 149.8h0M364.7 149.5h0M364.2 143.7h0M363.2 141.0h0M365.9 147.6h0M363.1 149.7h0M361.1 132.5h0M365.8 147.1h0M361.8 139.7h0M365.6 148.3h0M360.9 143.9h0M362.0 152.4h0M362.5 150.7h0M364.2 139.3h0M363.2 145.1h0M363.1 144.5h0M361.5 140.6h0M361.4 151.2h0M360.3 146.1h0M364.6 147.5h0M360.7 141.7h0M361.8 150.5h0M360.5 149.4h0M359.7 147.7h0M365.9 148.3h0M365.8 146.2h0M361.8 151.2h0M362.3 151.7h0M362.3 146.0h0M361.4 143.9h0M361.8 152.1h0M360.5 143.6h0M360.0 127.8h0M361.6 145.2h0M361.3 144.6h0M362.4 146.4h0M359.8 149.6h0M360.2 144.8h0M362.7 145.2h0M362.0 151.8h0M359.1 144.9h0M361.7 149.0h0M370.2 130.3h0M370.3 147.6h0M369.9 143.9h0M372.0 128.3h0M370.2 143.6h0M369.9 150.9h0M371.3 152.0h0M371.7 147.7h0M385.8 149.1h0M384.1 141.9h0M381.5 146.9h0M381.3 126.9h0M382.0 129.4h0M383.9 123.7h0M385.6 146.2h0M384.9 153.3h0M382.0 139.2h0M385.7 128.4h0M385.9 125.5h0M379.5 152.3h0M382.7 152.7h0M383.6 149.1h0M381.1 139.8h0M379.6 124.1h0M381.3 142.4h0M385.3 144.5h0M383.8 152.8h0M381.9 151.2h0M379.8 150.1h0M379.9 152.5h0M381.4 135.2h0M381.4 146.1h0M383.3 136.4h0M379.5 149.5h0M383.1 142.6h0M381.2 130.6h0M385.0 142.2h0M383.1 147.4h0M382.8 153.0h0M384.4 137.4h0M381.2 140.9h0M381.5 153.7h0M380.1 152.5h0M382.1 153.3h0M385.6 123.3h0M382.3 137.1h0M380.1 131.8h0M384.6 134.4h0M380.3 140.4h0M379.8 152.1h0M383.2 150.7h0M385.7 132.4h0M383.4 127.0h0M379.9 149.3h0M383.4 125.0h0M381.0 125.2h0M384.2 144.8h0M384.3 132.8h0M381.0 152.6h0M385.4 153.4h0M380.5 129.1h0M381.4 138.0h0M381.1 143.5h0M380.4 133.0h0M381.1 134.3h0M381.9 139.8h0M385.7 148.4h0M382.6 122.1h0M379.6 151.3h0M380.8 140.7h0M386.0 145.0h0M385.3 152.6h0M394.9 141.6h0M389.9 144.5h0M392.4 147.3h0M394.0 141.6h0M392.5 152.9h0M393.9 142.7h0M391.2 143.5h0M390.7 143.1h0M393.3 152.8h0M394.0 150.2h0M391.5 143.2h0M394.3 138.7h0M390.1 141.4h0M389.0 151.2h0M390.1 145.8h0M389.4 147.0h0M390.1 146.9h0M391.3 151.7h0M391.3 152.0h0M392.3 141.9h0M389.9 152.0h0M389.9 146.8h0M390.2 151.6h0M394.9 145.1h0M394.3 146.2h0M391.2 138.3h0M389.5 152.8h0M392.2 147.4h0M393.3 149.7h0M389.4 142.4h0M392.6 144.1h0M393.2 125.7h0M393.9 152.8h0M390.7 142.3h0M394.7 149.5h0M390.1 151.7h0M392.3 148.3h0M393.3 145.8h0M389.4 137.5h0M395.0 145.5h0M394.9 140.3h0M389.3 144.7h0M394.6 150.5h0M391.9 135.3h0M389.9 150.6h0M393.9 142.7h0M403.2 148.2h0M401.3 153.7h0M403.2 152.5h0M401.9 130.5h0M403.2 128.1h0M406.3 142.7h0M403.9 141.5h0M407.1 142.5h0M405.6 143.1h0M402.3 146.3h0M407.1 143.1h0M404.9 150.2h0M404.9 129.3h0M405.2 140.3h0M404.2 147.0h0M407.1 153.6h0M402.4 143.2h0M401.6 152.1h0M402.7 153.0h0M404.4 144.2h0M400.8 150.0h0M407.0 145.2h0M400.5 140.3h0M406.7 153.5h0M405.5 150.6h0M406.5 148.9h0M400.8 152.3h0M402.0 151.0h0M405.5 141.5h0M402.3 136.2h0M404.8 151.4h0M406.1 143.9h0M401.6 150.0h0M407.1 149.7h0M404.0 143.8h0M405.8 152.6h0M406.6 134.9h0M401.8 140.0h0M400.5 137.7h0M401.6 141.7h0M404.8 150.5h0M405.8 150.7h0M400.8 151.4h0M405.8 143.9h0M406.7 152.1h0M402.9 149.5h0M406.9 145.7h0M402.1 150.6h0M403.3 132.0h0M411.5 150.5h0M415.2 144.7h0M415.5 147.2h0M410.7 146.0h0M412.2 151.8h0M413.3 150.4h0M414.6 152.4h0M411.3 143.4h0M414.7 139.1h0M415.3 141.7h0M413.8 150.2h0M411.2 148.4h0M412.4 143.4h0M412.3 131.7h0M411.8 150.7h0M411.1 150.6h0M410.7 143.6h0M415.8 153.4h0M410.8 148.5h0M412.7 144.0h0M412.6 151.6h0M414.9 153.6h0M412.0 149.9h0M413.6 149.9h0M411.4 143.6h0M411.5 143.6h0M414.1 142.2h0M415.3 150.2h0M413.6 143.2h0M414.4 147.0h0M416.0 151.5h0M411.7 151.9h0M416.5 143.7h0M413.4 150.4h0M416.0 148.3h0M415.1 123.4h0M413.5 143.4h0M413.2 147.4h0M412.5 144.0h0M412.8 149.5h0M411.4 134.4h0M424.9 151.0h0M423.5 134.0h0M424.1 151.0h0M420.4 153.7h0M421.8 144.8h0M424.9 127.0h0M421.9 151.6h0M422.3 141.8h0M424.0 152.3h0M426.4 144.0h0M421.4 151.4h0M423.7 146.3h0M425.0 151.4h0M423.6 147.8h0M422.6 151.6h0M425.1 145.0h0M424.5 150.7h0M426.4 147.7h0M421.8 141.6h0M422.8 153.0h0M424.2 150.3h0M422.1 145.5h0M422.9 152.6h0M426.0 143.8h0M422.8 142.6h0M424.5 144.2h0M425.0 135.9h0M426.8 149.5h0M426.2 129.1h0M423.0 142.0h0M421.4 151.0h0M422.1 148.5h0M423.2 149.0h0M423.6 147.4h0M426.3 142.0h0M426.0 152.7h0M420.4 143.2h0M422.3 144.2h0M423.8 151.5h0M423.9 144.7h0M426.3 143.3h0M422.2 149.0h0M425.7 152.1h0M423.3 152.8h0M420.4 147.7h0M420.0 142.5h0M423.8 143.6h0M426.7 148.5h0M420.4 143.8h0M436.1 151.1h0M435.9 151.2h0M438.7 150.6h0M432.4 127.1h0M432.6 151.3h0M432.6 148.1h0M432.8 150.2h0M433.1 151.0h0M431.4 152.9h0M436.2 147.4h0M437.8 149.4h0M434.1 149.2h0M431.4 151.3h0M432.6 151.8h0M435.7 147.0h0M436.3 144.4h0M437.0 150.5h0M431.3 148.7h0M433.2 150.9h0M437.9 143.1h0M437.5 150.4h0M437.8 146.0h0M438.2 148.0h0M438.4 127.1h0M436.4 152.4h0M431.2 143.6h0M437.8 151.4h0M438.5 150.9h0M433.1 126.5h0M433.7 143.4h0M437.2 148.8h0M432.8 142.1h0M435.7 152.1h0M434.9 142.6h0M437.1 146.7h0M436.3 147.9h0M435.0 129.4h0M438.6 145.1h0M435.2 151.4h0M434.6 143.7h0M436.5 151.7h0M432.1 144.0h0M433.6 146.2h0M435.7 149.8h0M433.7 143.5h0M433.9 143.3h0M432.8 145.2h0M437.6 152.7h0M433.0 150.8h0M434.0 127.7h0M435.5 148.6h0M432.1 146.3h0M434.9 149.8h0M437.9 146.0h0M443.3 144.1h0M441.1 141.9h0M445.4 152.6h0M446.5 148.1h0M445.6 149.6h0M445.8 145.9h0M443.8 142.8h0M445.8 134.1h0M447.7 145.2h0M442.5 149.0h0M447.6 149.4h0M447.5 135.2h0M443.5 153.5h0M441.1 149.1h0M442.7 146.6h0M447.0 148.7h0M443.4 147.7h0M447.7 126.9h0M441.7 143.3h0M442.1 150.6h0M441.6 137.1h0M447.9 144.8h0M446.6 152.1h0M447.9 153.5h0M442.3 151.0h0M444.1 151.9h0M444.4 143.1h0M441.0 152.1h0M444.9 149.1h0M447.8 145.2h0M445.2 145.0h0M447.8 143.2h0M443.4 145.4h0M447.0 150.7h0M444.5 147.1h0M447.9 148.0h0M442.4 146.1h0M447.6 146.5h0M445.9 125.0h0M443.3 142.3h0M445.2 152.7h0M446.5 151.4h0M441.8 148.2h0M445.6 147.0h0M445.0 148.5h0M442.9 150.0h0M446.1 138.2h0M444.1 150.8h0M442.7 142.0h0M455.2 147.3h0M454.6 148.0h0M457.9 150.5h0M455.5 141.9h0M453.7 152.8h0M455.5 152.8h0M453.8 147.5h0M454.6 149.2h0M454.9 146.0h0M454.2 144.7h0M453.1 145.6h0M457.8 143.3h0M456.6 143.5h0M457.1 142.2h0M453.3 148.9h0M455.9 152.5h0M455.7 152.6h0M458.2 148.0h0M453.7 144.7h0M457.6 147.6h0M454.3 144.8h0M456.1 149.4h0M458.1 151.0h0M456.6 131.1h0M454.3 146.3h0M456.1 145.8h0M457.7 149.9h0M457.8 145.0h0M460.9 149.5h0M465.8 148.5h0M465.6 144.3h0M463.8 147.6h0M460.7 153.2h0M463.7 151.5h0M465.4 145.8h0M461.5 149.2h0M460.2 147.2h0M462.3 152.8h0M461.2 145.0h0M461.8 151.5h0M462.1 143.7h0M461.4 144.3h0M461.2 141.7h0M465.3 149.7h0M462.7 143.8h0M465.1 147.9h0M464.9 152.3h0M463.9 141.5h0M464.6 144.4h0M461.7 147.0h0M460.4 143.1h0M463.3 150.5h0M463.2 142.5h0M461.0 147.8h0M462.2 148.5h0M463.1 149.3h0M463.1 145.5h0M462.0 147.0h0M473.4 147.5h0M475.3 144.4h0M475.4 152.4h0M474.7 146.5h0M472.6 144.6h0M473.8 150.3h0M475.4 152.9h0M476.3 123.9h0M477.6 146.0h0M472.9 147.3h0M473.3 145.9h0M476.0 152.7h0M472.4 151.5h0M477.2 140.4h0M472.8 144.1h0M473.4 146.0h0M477.4 138.9h0M474.8 141.5h0M475.8 151.7h0M474.9 141.7h0M472.5 149.5h0M472.3 149.2h0M478.0 151.8h0M473.2 147.2h0M474.7 145.2h0M474.1 138.5h0M472.8 153.6h0M472.6 141.9h0M474.7 123.8h0M471.6 153.7h0M475.9 148.2h0M477.2 145.0h0M473.0 152.1h0M474.8 150.8h0M474.7 149.5h0M475.7 146.9h0M471.9 151.8h0M477.5 125.1h0M473.0 152.2h0M477.8 152.5h0M472.0 148.9h0M477.6 149.6h0M476.7 146.6h0M473.7 142.3h0M475.6 140.1h0M475.3 147.4h0M477.3 145.6h0M474.2 152.8h0M472.5 151.9h0M481.9 123.5h0M486.4 151.9h0M487.4 143.1h0M483.2 146.9h0M483.1 144.5h0M487.0 139.5h0M484.0 146.2h0M485.6 142.7h0M488.2 147.8h0M481.7 147.4h0M481.6 151.6h0M483.4 127.7h0M482.3 147.3h0M481.9 146.8h0M484.5 152.2h0M485.8 150.8h0M485.5 128.9h0M485.8 144.3h0M484.7 148.5h0M485.4 142.1h0M485.7 148.9h0M486.1 147.9h0M484.2 145.7h0M487.6 145.4h0M485.2 145.3h0M484.3 148.8h0M485.1 142.2h0M486.1 148.9h0M487.1 142.7h0M484.9 144.9h0M485.3 153.0h0M481.9 150.3h0M483.1 144.0h0M483.6 150.4h0M483.3 141.6h0M486.6 151.7h0M488.3 153.3h0M487.6 141.5h0M484.6 152.9h0M485.5 142.7h0M483.1 149.5h0M487.1 126.8h0M485.5 149.9h0M483.1 149.5h0M483.7 153.7h0M485.0 151.1h0M486.4 144.3h0M482.7 150.0h0M482.2 150.6h0M492.3 141.7h0M494.0 144.2h0M491.9 142.9h0M493.7 150.8h0M496.6 147.9h0M496.4 150.6h0M493.6 150.1h0M497.0 148.5h0M496.5 141.8h0M495.7 150.7h0M492.8 124.6h0M491.5 152.0h0M491.9 151.9h0M497.3 150.5h0M492.4 144.3h0M491.7 153.0h0M494.0 152.0h0M495.1 142.4h0M497.7 144.6h0M495.9 147.5h0M495.2 147.8h0M497.4 136.2h0M497.4 152.1h0M493.0 144.1h0M496.5 134.3h0M493.5 147.4h0M493.7 128.2h0M495.2 136.5h0M495.0 141.9h0M497.0 141.5h0M492.4 143.3h0M493.7 146.2h0M497.5 142.5h0M498.3 146.6h0M494.8 151.6h0M493.3 131.4h0M498.1 147.2h0M491.8 146.2h0M498.4 145.4h0M491.7 152.0h0M496.3 150.6h0M494.6 150.9h0M494.2 144.8h0M498.2 148.3h0M495.0 144.4h0M496.2 148.6h0M492.3 153.7h0M497.5 143.3h0M492.7 144.7h0M508.4 152.7h0M506.8 151.0h0M505.1 153.7h0M506.7 142.7h0M505.2 143.1h0M502.6 149.6h0M502.3 143.1h0M503.0 152.7h0M508.3 145.3h0M505.6 142.2h0M503.5 142.6h0M507.5 141.4h0M506.9 150.5h0M508.0 141.5h0M508.0 136.7h0M503.1 137.1h0M502.6 151.8h0M503.4 134.8h0M506.7 142.1h0M502.9 147.9h0M503.7 131.7h0M507.0 146.2h0M504.1 146.8h0M503.0 132.7h0M507.3 150.3h0M507.1 140.9h0M508.3 150.3h0M505.2 148.6h0M507.3 144.7h0M506.0 147.0h0M507.9 143.1h0M506.3 153.6h0M504.8 144.2h0M503.9 145.4h0M502.0 149.2h0M503.6 145.6h0M503.4 153.4h0M502.3 127.0h0M508.4 135.9h0M505.8 146.8h0M508.4 146.9h0M503.3 148.1h0M507.5 140.8h0M502.5 151.5h0M505.6 138.8h0M505.1 142.2h0M507.9 152.4h0M506.6 148.4h0M511.8 151.3h0M512.3 148.0h0M512.5 151.1h0M511.5 145.2h0M512.3 148.9h0M512.5 150.0h0M511.3 143.1h0M583.5 130.6h0M562.2 150.7h0M578.2 145.7h0M559.8 153.3h0M539.2 132.7h0M532.6 120.5h0M537.2 142.0h0M578.8 153.4h0M572.8 153.6h0M583.0 146.3h0M558.4 142.6h0M531.3 144.4h0M533.2 152.5h0M552.9 134.3h0M536.9 121.7h0M564.5 141.0h0M542.0 138.9h0M534.0 138.0h0M584.4 134.6h0M535.8 153.7h0M528.6 125.6h0M528.2 153.6h0M551.4 152.4h0M575.5 140.1h0M535.9 153.1h0M539.0 151.3h0M554.0 119.7h0M559.8 138.5h0M567.7 148.6h0M575.8 143.5h0M559.5 133.0h0M541.5 141.6h0M549.8 120.1h0M554.2 152.9h0M528.3 153.0h0M560.6 133.6h0M562.3 138.2h0M575.0 151.9h0M551.7 126.7h0M562.3 135.8h0M536.3 153.7h0M561.4 146.3h0M560.1 152.2h0M561.9 145.2h0M581.4 134.8h0M531.0 153.6h0M539.1 148.7h0M536.8 150.6h0M545.4 149.1h0M573.7 126.5h0M563.8 147.5h0M576.7 153.0h0M540.6 153.6h0M538.0 137.8h0M554.9 147.7h0M562.2 147.9h0M584.9 149.7h0M564.2 146.3h0M552.0 129.0h0M540.7 150.7h0M548.3 149.2h0M581.4 128.1h0M535.0 153.7h0M578.0 145.6h0M554.8 148.6h0M545.5 124.9h0M574.7 135.6h0M576.7 153.3h0M565.7 146.0h0M552.6 152.5h0M540.7 120.1h0M534.1 145.1h0M529.6 150.5h0M568.2 148.9h0M564.0 119.9h0M576.8 143.0h0M563.2 141.5h0M550.0 138.5h0M578.9 138.9h0M583.9 142.4h0M576.2 153.7h0M557.5 152.3h0M550.6 146.7h0M559.5 129.1h0M554.3 136.7h0M551.1 150.6h0M530.5 153.6h0M545.0 121.6h0M539.1 149.4h0M554.0 131.5h0M536.7 151.2h0M565.6 145.4h0M577.4 152.4h0M531.7 138.4h0M541.7 152.7h0M556.2 141.4h0M531.3 152.5h0M583.2 150.6h0M530.2 152.4h0M580.0 132.8h0M573.2 130.1h0M549.8 153.7h0M568.4 120.7h0M573.7 136.7h0M561.9 153.7h0M540.7 136.8h0M581.5 134.1h0M564.9 151.5h0M561.7 147.7h0M568.4 150.3h0M537.4 142.2h0M533.9 153.7h0M570.5 123.7h0M544.3 137.4h0M549.7 138.5h0M553.4 137.9h0M546.8 139.1h0M561.0 152.8h0M552.8 144.3h0M550.7 134.5h0M570.9 141.6h0M586.0 120.6h0M541.1 150.1h0M541.2 151.5h0M557.0 133.3h0M529.7 139.8h0M543.1 128.5h0M535.3 150.5h0M574.4 125.1h0M577.5 146.1h0M530.7 153.0h0M534.2 150.2h0M530.4 128.7h0M541.7 129.0h0M528.3 143.6h0M529.2 132.1h0M533.4 142.3h0M564.9 153.7h0M569.0 152.6h0M529.4 150.5h0M547.7 142.8h0M534.4 136.0h0M560.9 146.0h0M565.7 150.6h0M545.1 144.8h0M534.2 153.6h0M542.3 153.7h0M546.8 135.5h0M549.6 134.5h0M578.7 147.7h0M559.7 152.3h0M575.9 131.9h0M583.3 138.4h0M545.0 148.9h0M575.2 151.1h0M580.7 121.0h0M565.9 149.6h0M585.9 138.2h0M551.2 152.6h0M549.1 134.9h0M536.7 139.6h0M555.3 153.7h0M553.5 134.3h0M548.2 148.3h0M527.7 151.9h0M578.9 150.9h0M560.3 139.4h0M545.6 153.7h0M574.3 150.8h0M539.6 152.9h0M546.6 152.5h0M558.5 153.3h0M578.8 147.9h0M544.7 150.7h0M553.4 151.4h0M549.8 140.0h0M553.7 132.7h0M582.3 129.0h0M549.5 153.7h0M541.7 152.3h0M576.1 150.2h0M574.7 142.2h0M538.9 144.6h0M562.2 144.3h0M556.3 146.0h0M561.4 152.9h0M540.6 141.8h0M528.5 142.1h0M557.6 125.9h0M531.6 120.7h0M571.4 148.8h0M564.5 132.1h0M569.7 149.8h0M574.3 122.2h0M546.5 128.4h0M572.2 153.0h0M536.6 139.2h0M529.3 153.2h0M538.8 143.4h0M569.8 151.9h0M532.4 141.8h0M581.6 153.1h0M548.8 146.8h0M544.2 126.3h0M538.6 122.1h0M550.1 123.2h0M570.7 140.2h0M572.6 146.0h0M532.7 132.1h0M545.6 147.4h0M569.3 153.4h0M566.8 152.3h0M554.7 126.7h0M568.5 147.1h0M562.8 150.7h0M563.0 141.4h0M539.8 132.1h0M540.5 153.7h0M572.4 130.4h0M569.7 142.8h0M541.7 141.7h0M528.2 133.3h0M535.7 143.7h0M536.3 141.0h0M537.6 152.0h0M582.7 153.3h0M561.2 153.7h0M542.2 153.7h0M583.9 149.6h0M583.4 153.1h0M555.3 150.2h0M561.8 147.8h0M530.0 128.9h0M552.9 151.6h0M540.8 150.2h0M567.0 153.6h0M536.0 127.6h0M573.9 137.3h0M531.8 152.0h0M576.9 146.3h0M570.2 126.5h0M565.6 149.4h0M567.7 146.5h0M532.4 138.5h0M552.5 123.0h0M544.5 145.5h0M538.3 134.1h0M580.0 125.4h0M581.1 152.6h0M536.6 153.4h0M568.8 146.3h0M548.3 153.6h0M569.9 150.7h0M551.2 150.5h0M577.3 152.0h0M555.1 143.1h0M550.6 135.7h0M585.9 130.5h0M550.0 153.3h0M547.9 121.0h0M537.6 148.1h0M564.0 151.4h0M579.3 133.2h0M570.0 144.7h0M562.1 151.9h0M530.1 137.3h0M571.6 152.3h0M579.2 123.3h0M560.2 153.6h0M537.2 138.5h0M550.2 126.9h0M531.6 151.8h0M569.1 151.8h0M546.8 144.0h0M543.8 151.0h0M534.5 151.4h0M583.4 151.4h0M569.8 149.0h0M570.7 120.0h0M545.1 153.7h0M559.4 150.9h0M551.8 149.2h0M538.6 138.6h0M529.0 151.4h0M555.4 138.2h0M551.4 148.0h0M557.4 120.8h0M552.5 129.3h0M544.8 147.6h0M534.3 151.0h0M539.3 123.8h0M555.2 138.4h0M545.3 142.2h0M538.7 141.6h0M540.4 121.8h0M555.7 146.8h0M528.4 149.5h0M581.5 122.2h0M537.0 153.7h0M530.4 153.7h0M540.5 124.8h0M541.3 136.9h0M568.5 124.3h0M578.5 130.6h0M559.7 153.2h0M565.4 149.9h0M545.9 131.3h0M572.5 144.7h0M528.8 152.7h0M584.1 144.4h0M542.9 153.7h0M545.3 134.7h0M549.3 150.0h0M534.8 153.4h0M536.4 142.5h0M540.0 144.4h0M553.7 138.4h0M535.7 153.6h0M574.3 152.9h0M546.9 124.7h0M551.7 153.4h0M529.8 139.7h0M553.8 130.6h0M566.6 122.3h0M579.5 148.3h0M536.0 145.0h0M532.8 146.3h0M564.3 146.1h0M564.8 136.6h0M551.9 127.9h0M529.8 152.5h0M562.5 153.4h0M557.8 137.6h0M531.8 151.2h0M550.1 129.5h0M563.9 144.7h0M533.9 153.5h0M533.2 153.7h0M550.4 133.8h0M585.9 149.2h0M585.0 150.4h0M585.6 148.6h0M567.0 149.4h0M527.5 137.3h0M584.3 147.9h0M549.9 153.7h0M581.3 153.7h0M527.8 153.0h0M572.8 143.5h0M583.1 152.4h0M550.0 152.4h0M581.7 150.9h0M540.8 148.4h0M566.0 122.9h0M532.2 148.8h0M583.6 136.1h0M576.3 148.9h0M573.2 120.1h0M543.4 145.6h0M578.7 142.9h0M577.9 151.0h0M556.2 152.5h0M573.4 149.5h0M554.8 144.4h0M577.5 148.7h0M558.1 127.7h0M545.3 151.7h0M542.2 137.6h0M541.9 126.4h0M584.1 123.3h0M530.8 150.2h0M583.7 137.5h0M581.9 142.5h0M536.6 123.4h0M578.5 149.7h0M563.6 152.1h0M603.2 143.3h0M599.4 139.7h0M602.2 153.6h0M602.7 153.7h0M597.9 129.0h0M600.5 152.9h0M598.2 132.2h0M597.9 146.3h0M602.1 148.1h0M602.3 147.1h0M601.9 145.3h0M597.6 146.6h0M596.7 147.6h0M598.7 139.3h0M603.1 150.9h0M596.7 133.5h0M602.1 146.0h0M597.4 146.9h0M602.4 146.3h0M596.7 144.5h0M601.4 148.2h0M597.9 150.1h0M596.3 151.2h0M600.5 139.2h0M600.0 150.8h0M601.8 133.9h0M597.9 146.3h0M599.6 150.6h0M596.2 124.4h0M604.1 142.5h0M597.7 152.9h0M598.8 142.0h0M597.9 144.7h0M597.6 138.8h0M599.7 135.0h0M597.1 136.1h0M599.7 142.9h0M597.6 150.7h0M599.4 139.6h0M600.3 137.6h0M601.0 149.7h0M601.0 128.9h0M600.1 144.0h0M596.4 141.0h0M604.0 149.9h0M600.0 124.9h0M596.9 145.6h0M602.6 147.2h0M601.9 150.2h0M596.6 142.6h0M600.5 133.4h0M599.3 139.0h0M596.6 144.2h0M600.4 138.6h0M598.5 152.1h0M603.4 153.4h0M597.2 152.5h0M600.1 135.1h0M600.2 148.6h0M598.6 143.8h0M599.9 145.5h0M604.0 138.7h0M609.4 145.4h0M608.6 143.9h0M607.8 145.4h0M606.3 152.5h0M607.5 144.7h0M605.9 153.6h0M609.1 138.4h0M607.0 142.8h0M606.6 143.6h0M606.7 149.6h0M606.7 149.4h0M606.5 146.6h0M607.5 144.6h0M608.6 143.9h0M609.3 148.8h0M605.6 128.5h0M607.3 140.9h0M609.7 147.9h0M606.8 138.4h0M607.6 152.6h0M607.2 145.4h0M609.1 126.1h0M608.8 148.4h0M609.7 134.2h0M605.8 136.2h0M614.5 146.0h0M615.4 150.7h0M616.8 140.9h0M616.5 149.1h0M615.8 142.1h0M616.6 140.5h0M619.3 133.3h0M613.8 151.2h0M619.4 138.9h0M616.0 142.3h0M614.9 146.3h0M618.0 142.9h0M619.1 138.8h0M616.6 147.7h0M619.4 142.4h0M619.3 128.3h0M616.8 128.3h0M617.0 149.2h0M614.7 141.2h0M620.3 149.0h0M614.5 149.8h0M614.8 142.0h0M617.6 141.1h0M618.3 138.9h0M617.1 152.9h0M615.8 136.5h0M618.5 153.6h0M619.6 149.3h0M615.7 151.5h0M616.6 147.9h0M616.0 140.7h0M613.8 139.4h0M616.4 148.5h0M617.2 146.8h0M620.5 140.8h0M617.1 140.1h0M620.1 143.9h0M618.9 146.8h0M618.6 145.7h0M615.0 132.5h0M616.4 141.5h0M618.2 141.2h0M618.1 149.6h0M616.4 149.7h0M619.0 151.6h0M618.7 148.8h0M616.1 138.2h0M616.3 131.4h0M615.0 142.2h0M618.1 150.7h0M616.9 153.6h0M616.3 146.1h0M629.1 152.5h0M631.4 151.7h0M628.6 146.0h0M625.4 150.9h0M634.5 146.2h0M630.1 152.3h0M632.8 151.7h0M628.2 147.1h0M631.5 140.5h0M633.8 153.2h0M628.1 147.1h0M625.5 151.2h0M625.3 137.8h0M627.7 136.9h0M630.6 140.1h0M631.6 140.9h0M633.1 138.7h0M623.9 153.1h0M631.8 150.9h0M632.8 139.2h0M627.7 146.2h0M631.9 145.2h0M626.0 151.3h0M626.4 142.5h0M625.1 138.2h0M630.6 139.8h0M631.9 125.0h0M629.4 152.8h0M624.5 144.5h0M632.7 151.9h0M624.6 138.7h0M632.1 144.0h0M625.5 148.1h0M626.2 149.6h0M627.3 144.4h0M631.5 152.6h0M629.8 149.8h0M628.0 139.6h0M631.4 144.7h0M631.2 133.5h0M624.1 153.6h0M632.0 138.8h0M633.9 153.0h0M630.6 146.5h0M624.9 152.2h0M629.4 149.3h0M632.1 144.1h0M633.0 131.1h0M633.8 150.1h0M634.4 148.1h0M633.7 149.5h0M633.0 139.8h0M626.0 152.3h0M629.0 144.5h0M633.0 142.2h0M632.9 149.4h0M632.3 149.0h0M632.0 130.9h0M628.9 152.6h0M629.6 143.5h0M625.0 153.6h0M631.1 137.8h0M628.7 140.0h0M626.6 148.8h0M623.9 147.4h0M630.1 139.2h0M632.1 123.8h0M624.1 129.6h0M625.5 149.9h0M633.7 140.3h0M626.3 134.1h0M627.3 151.7h0M630.4 149.9h0M627.0 151.1h0M630.0 149.7h0M627.5 135.5h0M625.8 126.0h0M627.1 138.5h0M629.6 137.0h0M630.6 144.3h0M624.7 142.0h0M628.7 124.5h0M650.6 144.2h0M648.7 153.3h0M650.9 151.8h0M654.1 137.2h0M652.9 138.2h0M654.4 144.2h0M655.2 149.0h0M648.6 152.9h0M652.1 152.8h0M655.7 133.3h0M654.5 146.4h0M653.8 151.9h0M652.9 151.9h0M650.3 134.1h0M95.5 99.0h0M107.9 101.0h0M116.3 97.0h0M107.9 109.7h0M89.3 112.7h0M89.9 118.5h0M98.6 119.0h0M98.6 120.2h0M108.8 117.7h0M110.5 120.0h0M128.8 107.1h0M127.1 110.7h0M128.6 115.8h0M139.1 100.7h0M142.4 100.1h0M139.7 109.7h0M136.7 114.4h0M140.5 117.3h0M140.5 119.3h0M151.3 106.6h0M151.9 110.3h0M147.1 114.0h0M149.5 117.7h0M148.6 120.2h0M160.9 107.1h0M178.3 106.6h0M188.6 106.0h0M180.7 112.1h0M160.9 114.4h0M162.0 117.0h0M169.4 117.7h0M170.3 119.3h0M179.6 115.3h0M191.8 114.9h0M198.4 116.7h0M160.7 120.2h0M189.0 120.2h0M200.8 120.2h0M208.1 119.0h0M221.7 117.1h0M231.0 117.7h0M259.0 90.0h0M253.7 98.7h0M238.4 110.3h0M239.8 114.4h0M241.9 117.0h0M250.0 114.0h0M252.0 111.5h0M249.8 119.0h0M248.6 120.4h0M261.7 113.0h0M261.1 117.1h0M263.0 118.1h0M272.1 109.4h0M269.6 111.5h0M270.7 114.4h0M274.4 114.4h0M281.8 107.1h0M279.9 109.7h0M284.1 110.3h0M281.4 112.7h0M280.3 116.4h0M289.6 110.7h0M300.8 108.3h0M302.6 116.4h0M293.3 120.4h0M309.3 120.0h0M309.7 106.3h0M321.7 99.3h0M321.1 100.4h0M330.1 98.1h0M310.9 106.6h0M319.9 107.1h0M321.7 110.7h0M333.3 109.7h0M312.9 113.6h0M311.5 116.7h0M309.4 120.0h0M324.0 119.4h0M331.5 117.5h0M332.7 119.4h0M341.4 120.6h0M353.9 120.0h0M379.9 106.0h0M380.4 108.6h0M383.3 113.5h0M381.3 116.1h0M380.7 117.7h0M381.8 118.5h0M381.8 120.2h0M384.6 113.5h0M393.5 114.4h0M411.7 115.3h0M414.5 116.4h0M422.7 117.9h0M404.3 120.6h0M425.3 120.6h0M431.9 117.5h0M435.5 119.0h0M443.7 114.4h0M445.6 116.4h0M443.7 117.7h0M453.5 110.7h0M456.3 116.7h0M443.9 120.6h0M461.3 119.3h0M464.3 102.4h0M466.0 114.7h0M461.7 119.6h0M473.0 112.1h0M484.7 105.7h0M486.7 107.7h0M482.9 113.5h0M494.0 109.7h0M497.0 113.5h0M492.8 118.7h0M496.0 118.7h0M502.1 107.1h0M504.2 112.1h0M504.2 114.2h0M502.1 116.7h0M534.1 109.7h0M535.9 114.4h0M547.0 85.3h0M544.7 99.3h0M547.0 107.1h0M542.4 108.8h0M536.6 114.4h0M548.8 113.8h0M548.2 115.0h0M557.3 110.9h0M559.8 113.5h0M556.3 115.3h0M562.5 108.8h0M568.0 101.4h0M571.5 113.0h0M576.9 111.5h0M570.0 117.7h0M573.0 118.7h0M549.4 120.2h0M563.0 120.0h0M568.0 120.4h0M577.9 120.0h0M580.2 120.4h0M583.1 120.0h0M600.2 91.7h0M600.8 97.5h0M598.8 99.3h0M605.4 102.4h0M599.7 106.3h0M601.3 111.5h0M602.5 113.0h0M600.9 114.4h0M602.9 117.3h0M602.5 118.5h0M608.1 120.2h0M616.9 110.3h0M619.4 114.4h0M616.5 118.1h0M619.4 118.1h0M625.0 113.5h0M625.8 115.9h0M629.1 118.1h0M608.4 120.2h0M655.3 111.5h0M649.1 119.6h0M655.3 120.0h0" stroke="#0000ff" stroke-width="1.6" stroke-linecap="round" fill="none"/>
<!-- dashed connectors -->
<g stroke="#d9707c" stroke-width="1.2" stroke-dasharray="4.7 3.1" fill="none">
<line x1="392.6" y1="157" x2="204.7" y2="198.8" stroke-dasharray="4.6 3.04" stroke-dashoffset="2.1"/>
<line x1="435" y1="157.4" x2="644.3" y2="198.6"/>
</g>
<rect x="297" y="168" width="149" height="13" fill="#fff"/>
<text x="298.9" y="178.6" style='font-family:"DejaVu Sans",sans-serif' font-size="10.2" fill="#2a2a2a" textLength="145.3" lengthAdjust="spacingAndGlyphs">Time within Regimen [Days]</text>
<!-- red window lines -->
<g stroke="#b8323f" stroke-width="1.3" fill="none">
<path d="M392.7 157.2 H396.4 V82.3"/>
<path d="M435.2 157.2 H430.9 V82.3"/>
</g>
<!-- brackets -->
<g stroke="#3d68c0" stroke-width="2.4" fill="none" filter="url(#sh)" stroke-linecap="butt">
<path d="M79.1 78.8 L79.4 67.5 Q79.4 65.7 81.2 65.7 H389.6 Q391.4 65.7 391.4 67.5 L391.6 78.8"/>
<path d="M395.5 78.8 L395.8 67.5 Q395.8 65.7 397.6 65.7 H428.7 Q430.5 65.7 430.5 67.5 L430.7 78.8"/>
<path d="M478.4 66.3 L438 80.8"/>
<path d="M174.9 251.8 H132.8 V167"/>
</g>
<g fill="#3d68c0" filter="url(#sh)">
<polygon points="432.8,83 437.2,76.8 440.6,84.6"/>
<polygon points="132.5,160.6 128.9,167.6 136.1,167.6"/>
</g>
<!-- bottom plot -->
<rect x="204.3" y="198.8" width="440" height="106.8" fill="#fff" stroke="#8c8c8c" stroke-width="1.1"/>
<g stroke="#777" stroke-width="0.7"><line x1="202.2" y1="300.8" x2="204.3" y2="300.8"/><line x1="202.2" y1="282.4" x2="204.3" y2="282.4"/><line x1="202.2" y1="264.1" x2="204.3" y2="264.1"/><line x1="202.2" y1="245.7" x2="204.3" y2="245.7"/><line x1="202.2" y1="227.4" x2="204.3" y2="227.4"/><line x1="202.2" y1="209.0" x2="204.3" y2="209.0"/><line x1="224.1" y1="305.6" x2="224.1" y2="307.8"/><line x1="279.9" y1="305.6" x2="279.9" y2="307.8"/><line x1="335.6" y1="305.6" x2="335.6" y2="307.8"/><line x1="391.4" y1="305.6" x2="391.4" y2="307.8"/><line x1="447.2" y1="305.6" x2="447.2" y2="307.8"/><line x1="503.0" y1="305.6" x2="503.0" y2="307.8"/><line x1="558.7" y1="305.6" x2="558.7" y2="307.8"/><line x1="614.5" y1="305.6" x2="614.5" y2="307.8"/></g>
<g style='font-family:"DejaVu Sans",sans-serif' font-size="6.7" fill="#2a2a2a"><text x="199.4" y="303.4" text-anchor="end">0</text><text x="199.4" y="285.0" text-anchor="end">10</text><text x="199.4" y="266.7" text-anchor="end">20</text><text x="199.4" y="248.3" text-anchor="end">30</text><text x="199.4" y="230.0" text-anchor="end">40</text><text x="199.4" y="211.6" text-anchor="end">50</text><text x="224.1" y="315.6" text-anchor="middle">0</text><text x="279.9" y="315.6" text-anchor="middle">10</text><text x="335.6" y="315.6" text-anchor="middle">20</text><text x="391.4" y="315.6" text-anchor="middle">30</text><text x="447.2" y="315.6" text-anchor="middle">40</text><text x="503.0" y="315.6" text-anchor="middle">50</text><text x="558.7" y="315.6" text-anchor="middle">60</text><text x="614.5" y="315.6" text-anchor="middle">70</text></g>
<text transform="translate(186.6 291) rotate(-90)" style='font-family:"DejaVu Sans",sans-serif' font-size="6.7" fill="#2a2a2a" textLength="76" lengthAdjust="spacingAndGlyphs">Mean Steps per Minute</text>
<text x="371.9" y="324.5" style='font-family:"DejaVu Sans",sans-serif' font-size="6.6" fill="#2a2a2a" textLength="105.1" lengthAdjust="spacingAndGlyphs">Time within 3-Day Window [Hrs]</text>
<path d="M277.3 252.9h0M275.6 264.5h0M274.3 289.7h0M283.7 300.8h0M289.7 300.8h0M296.5 300.8h0M309.4 300.8h0M313.7 300.8h0M282.3 278.6h0M287.1 276.0h0M279.7 286.3h0M281.1 284.6h0M285.6 284.2h0M288.0 293.5h0M291.0 269.8h0M294.8 269.1h0M297.9 272.6h0M300.8 263.5h0M302.0 269.8h0M292.2 281.1h0M299.6 294.8h0M303.7 284.2h0M305.1 283.7h0M307.7 277.7h0M306.1 292.3h0M311.1 289.7h0M312.8 289.7h0M313.2 261.4h0M278.2 224.6h0M293.4 234.0h0M277.2 252.8h0M315.7 218.0h0M415.1 203.5h0M320.5 255.4h0M323.1 264.0h0M318.6 269.1h0M325.7 272.0h0M317.1 282.0h0M334.6 282.0h0M324.6 287.6h0M328.6 287.6h0M332.8 287.6h0M339.7 287.1h0M321.7 291.1h0M327.2 292.3h0M331.6 291.8h0M337.1 291.1h0M338.5 293.6h0M346.9 292.3h0M356.8 294.0h0M314.9 300.8h0M329.8 300.8h0M335.8 300.8h0M407.9 260.6h0M419.0 271.4h0M406.5 284.2h0M409.1 290.0h0M412.5 291.8h0M410.8 294.0h0M413.9 296.9h0M416.5 293.5h0M417.7 287.6h0M420.2 288.8h0M421.9 290.0h0M423.7 287.1h0M452.8 205.4h0M460.0 221.1h0M455.4 232.6h0M448.8 238.6h0M451.4 244.3h0M430.5 253.7h0M430.5 254.9h0M456.6 256.8h0M441.5 264.5h0M461.2 267.9h0M450.0 271.4h0M427.8 278.6h0M435.1 276.0h0M444.2 275.1h0M466.5 276.0h0M469.8 277.4h0M471.1 279.1h0M424.0 287.1h0M426.6 288.5h0M429.1 287.1h0M431.7 287.1h0M442.8 287.1h0M447.5 286.3h0M445.4 291.8h0M462.9 286.3h0M464.3 284.6h0M465.1 283.7h0M468.0 284.9h0M436.0 294.8h0M437.7 293.6h0M439.1 294.8h0M454.0 295.7h0M458.8 295.7h0M472.8 294.5h0M474.5 292.8h0M483.6 283.7h0M484.8 294.0h0M488.8 291.8h0M481.1 296.9h0M424.9 300.8h0M432.9 300.8h0M440.3 300.8h0M476.3 300.8h0M477.5 300.8h0M478.8 300.8h0M482.3 300.8h0M528.9 294.0h0M531.1 296.6h0M533.3 287.6h0M564.5 210.0h0M540.9 231.8h0M544.8 234.8h0M575.6 240.8h0M565.7 244.6h0M555.9 249.4h0M586.8 246.3h0M549.1 252.8h0M568.6 251.5h0M589.3 253.7h0M548.6 252.9h0M568.3 252.0h0M589.2 254.1h0M543.4 260.1h0M561.8 259.4h0M537.4 267.4h0M542.1 267.4h0M534.9 277.4h0M539.7 278.0h0M546.0 277.4h0M536.1 282.5h0M534.0 287.6h0M553.2 279.8h0M554.6 286.3h0M552.0 288.8h0M559.7 293.1h0M558.0 296.9h0M557.1 296.9h0M550.6 298.3h0M547.4 300.8h0M563.1 300.8h0M573.1 273.9h0M576.8 279.1h0M570.8 282.0h0M567.1 287.1h0M574.3 290.6h0M569.6 296.9h0M578.2 300.8h0M579.4 300.8h0M583.7 278.6h0M581.1 294.0h0M582.5 295.2h0M585.4 296.9h0M588.0 291.8h0M592.3 276.0h0M590.9 284.2h0M594.8 282.5h0M599.1 287.6h0M597.9 293.6h0M602.2 273.9h0M603.4 293.6h0M604.6 292.8h0M593.1 300.8h0M596.9 300.8h0M600.8 300.8h0M606.0 300.8h0M608.0 298.3h0M609.4 299.1h0M611.1 300.8h0M612.5 300.8h0M614.0 300.8h0M615.5 300.8h0M617.1 300.8h0M615.9 279.1h0M618.5 298.3h0M620.5 300.8h0M621.7 293.5h0M624.5 300.8h0M222.8 300.8h0M224.2 300.8h0M225.6 300.8h0M227.0 300.8h0M228.4 300.8h0M229.7 300.8h0M231.1 300.8h0M232.5 300.8h0M233.9 300.8h0M235.3 300.8h0M236.7 300.8h0M238.1 300.8h0M239.5 300.8h0M240.9 300.8h0M242.3 300.8h0M243.6 300.8h0M245.0 300.8h0M246.4 300.8h0M247.8 300.8h0M249.2 300.8h0M250.6 300.8h0M252.0 300.8h0M253.4 300.8h0M254.8 300.8h0M256.2 300.8h0M257.5 300.8h0M258.9 300.8h0M260.3 300.8h0M261.7 300.8h0M263.1 300.8h0M264.5 300.8h0M265.9 300.8h0M267.3 300.8h0M268.7 300.8h0M270.1 300.8h0M271.4 300.8h0M272.8 300.8h0M340.6 300.8h0M342.0 300.8h0M343.4 300.8h0M344.8 300.8h0M346.2 300.8h0M347.5 300.8h0M348.9 300.8h0M350.3 300.8h0M351.7 300.8h0M353.1 300.8h0M354.5 300.8h0M355.9 300.8h0M357.3 300.8h0M358.7 300.8h0M360.1 300.8h0M361.4 300.8h0M362.8 300.8h0M364.2 300.8h0M365.6 300.8h0M367.0 300.8h0M368.4 300.8h0M369.8 300.8h0M371.2 300.8h0M372.6 300.8h0M374.0 300.8h0M375.3 300.8h0M376.7 300.8h0M378.1 300.8h0M379.5 300.8h0M380.9 300.8h0M382.3 300.8h0M383.7 300.8h0M385.1 300.8h0M386.5 300.8h0M387.9 300.8h0M389.2 300.8h0M390.6 300.8h0M392.0 300.8h0M393.4 300.8h0M394.8 300.8h0M396.2 300.8h0M397.6 300.8h0M399.0 300.8h0M400.4 300.8h0M401.8 300.8h0M403.1 300.8h0M404.5 300.8h0M486.5 300.8h0M487.9 300.8h0M489.3 300.8h0M490.7 300.8h0M492.1 300.8h0M493.4 300.8h0M494.8 300.8h0M496.2 300.8h0M497.6 300.8h0M499.0 300.8h0M500.4 300.8h0M501.8 300.8h0M503.2 300.8h0M504.6 300.8h0M506.0 300.8h0M507.3 300.8h0M508.7 300.8h0M510.1 300.8h0M511.5 300.8h0M512.9 300.8h0M514.3 300.8h0M515.7 300.8h0M517.1 300.8h0M518.5 300.8h0M519.9 300.8h0M521.2 300.8h0M522.6 300.8h0M524.0 300.8h0M525.4 300.8h0M526.8 300.8h0M528.2 300.8h0" stroke="#0000ff" stroke-width="2.15" stroke-linecap="round" fill="none"/>
<path d="M224.10 295.22 L224.66 295.75 L225.22 296.26 L225.77 296.74 L226.33 297.20 L226.89 297.63 L227.45 298.03 L228.00 298.41 L228.56 298.76 L229.12 299.08 L229.68 299.38 L230.23 299.65 L230.79 299.89 L231.35 300.10 L231.91 300.29 L232.47 300.44 L233.02 300.57 L233.58 300.67 L234.14 300.74 L234.70 300.79 L235.25 300.80 L235.81 300.79 L236.37 300.74 L236.93 300.67 L237.48 300.57 L238.04 300.44 L238.60 300.29 L239.16 300.10 L239.72 299.89 L240.27 299.65 L240.83 299.38 L241.39 299.08 L241.95 298.76 L242.50 298.41 L243.06 298.03 L243.62 297.63 L244.18 297.20 L244.73 296.74 L245.29 296.26 L245.85 295.75 L246.41 295.22 L246.97 294.66 L247.52 294.08 L248.08 293.47 L248.64 292.84 L249.20 292.19 L249.75 291.51 L250.31 290.81 L250.87 290.09 L251.43 289.35 L251.98 288.59 L252.54 287.81 L253.10 287.01 L253.66 286.19 L254.22 285.35 L254.77 284.49 L255.33 283.62 L255.89 282.73 L256.45 281.82 L257.00 280.90 L257.56 279.96 L258.12 279.01 L258.68 278.04 L259.24 277.07 L259.79 276.07 L260.35 275.07 L260.91 274.06 L261.47 273.03 L262.02 272.00 L262.58 270.96 L263.14 269.91 L263.70 268.85 L264.25 267.79 L264.81 266.72 L265.37 265.64 L265.93 264.56 L266.49 263.48 L267.04 262.39 L267.60 261.30 L268.16 260.21 L268.72 259.12 L269.27 258.03 L269.83 256.94 L270.39 255.85 L270.95 254.77 L271.50 253.68 L272.06 252.60 L272.62 251.53 L273.18 250.46 L273.74 249.39 L274.29 248.34 L274.85 247.29 L275.41 246.24 L275.97 245.21 L276.52 244.19 L277.08 243.17 L277.64 242.17 L278.20 241.18 L278.75 240.20 L279.31 239.24 L279.87 238.28 L280.43 237.35 L280.99 236.42 L281.54 235.52 L282.10 234.63 L282.66 233.75 L283.22 232.89 L283.77 232.06 L284.33 231.24 L284.89 230.43 L285.45 229.65 L286.00 228.89 L286.56 228.15 L287.12 227.43 L287.68 226.73 L288.24 226.06 L288.79 225.41 L289.35 224.78 L289.91 224.17 L290.47 223.59 L291.02 223.03 L291.58 222.50 L292.14 221.99 L292.70 221.51 L293.25 221.05 L293.81 220.62 L294.37 220.21 L294.93 219.84 L295.49 219.49 L296.04 219.16 L296.60 218.87 L297.16 218.60 L297.72 218.36 L298.27 218.14 L298.83 217.96 L299.39 217.80 L299.95 217.67 L300.50 217.57 L301.06 217.50 L301.62 217.46 L302.18 217.45 L302.74 217.46 L303.29 217.50 L303.85 217.57 L304.41 217.67 L304.97 217.80 L305.52 217.96 L306.08 218.14 L306.64 218.36 L307.20 218.60 L307.75 218.87 L308.31 219.16 L308.87 219.49 L309.43 219.84 L309.99 220.21 L310.54 220.62 L311.10 221.05 L311.66 221.51 L312.22 221.99 L312.77 222.50 L313.33 223.03 L313.89 223.59 L314.45 224.17 L315.01 224.78 L315.56 225.41 L316.12 226.06 L316.68 226.73 L317.24 227.43 L317.79 228.15 L318.35 228.89 L318.91 229.65 L319.47 230.43 L320.02 231.24 L320.58 232.06 L321.14 232.89 L321.70 233.75 L322.26 234.63 L322.81 235.52 L323.37 236.42 L323.93 237.35 L324.49 238.28 L325.04 239.24 L325.60 240.20 L326.16 241.18 L326.72 242.17 L327.27 243.17 L327.83 244.19 L328.39 245.21 L328.95 246.24 L329.51 247.29 L330.06 248.34 L330.62 249.39 L331.18 250.46 L331.74 251.53 L332.29 252.60 L332.85 253.68 L333.41 254.77 L333.97 255.85 L334.52 256.94 L335.08 258.03 L335.64 259.12 L336.20 260.21 L336.76 261.30 L337.31 262.39 L337.87 263.48 L338.43 264.56 L338.99 265.64 L339.54 266.72 L340.10 267.79 L340.66 268.85 L341.22 269.91 L341.77 270.96 L342.33 272.00 L342.89 273.03 L343.45 274.06 L344.01 275.07 L344.56 276.07 L345.12 277.07 L345.68 278.04 L346.24 279.01 L346.79 279.96 L347.35 280.90 L347.91 281.82 L348.47 282.73 L349.02 283.62 L349.58 284.49 L350.14 285.35 L350.70 286.19 L351.26 287.01 L351.81 287.81 L352.37 288.59 L352.93 289.35 L353.49 290.09 L354.04 290.81 L354.60 291.51 L355.16 292.19 L355.72 292.84 L356.27 293.47 L356.83 294.08 L357.39 294.66 L357.95 295.22 L358.51 295.75 L359.06 296.26 L359.62 296.74 L360.18 297.20 L360.74 297.63 L361.29 298.03 L361.85 298.41 L362.41 298.76 L362.97 299.08 L363.52 299.38 L364.08 299.65 L364.64 299.89 L365.20 300.10 L365.76 300.29 L366.31 300.44 L366.87 300.57 L367.43 300.67 L367.99 300.74 L368.54 300.79 L369.10 300.80 L369.66 300.79 L370.22 300.74 L370.78 300.67 L371.33 300.57 L371.89 300.44 L372.45 300.29 L373.01 300.10 L373.56 299.89 L374.12 299.65 L374.68 299.38 L375.24 299.08 L375.79 298.76 L376.35 298.41 L376.91 298.03 L377.47 297.63 L378.03 297.20 L378.58 296.74 L379.14 296.26 L379.70 295.75 L380.26 295.22 L380.81 294.66 L381.37 294.08 L381.93 293.47 L382.49 292.84 L383.04 292.19 L383.60 291.51 L384.16 290.81 L384.72 290.09 L385.28 289.35 L385.83 288.59 L386.39 287.81 L386.95 287.01 L387.51 286.19 L388.06 285.35 L388.62 284.49 L389.18 283.62 L389.74 282.73 L390.29 281.82 L390.85 280.90 L391.41 279.96 L391.97 279.01 L392.53 278.04 L393.08 277.07 L393.64 276.07 L394.20 275.07 L394.76 274.06 L395.31 273.03 L395.87 272.00 L396.43 270.96 L396.99 269.91 L397.54 268.85 L398.10 267.79 L398.66 266.72 L399.22 265.64 L399.78 264.56 L400.33 263.48 L400.89 262.39 L401.45 261.30 L402.01 260.21 L402.56 259.12 L403.12 258.03 L403.68 256.94 L404.24 255.85 L404.79 254.77 L405.35 253.68 L405.91 252.60 L406.47 251.53 L407.03 250.46 L407.58 249.39 L408.14 248.34 L408.70 247.29 L409.26 246.24 L409.81 245.21 L410.37 244.19 L410.93 243.17 L411.49 242.17 L412.04 241.18 L412.60 240.20 L413.16 239.24 L413.72 238.28 L414.28 237.35 L414.83 236.42 L415.39 235.52 L415.95 234.63 L416.51 233.75 L417.06 232.89 L417.62 232.06 L418.18 231.24 L418.74 230.43 L419.29 229.65 L419.85 228.89 L420.41 228.15 L420.97 227.43 L421.53 226.73 L422.08 226.06 L422.64 225.41 L423.20 224.78 L423.76 224.17 L424.31 223.59 L424.87 223.03 L425.43 222.50 L425.99 221.99 L426.55 221.51 L427.10 221.05 L427.66 220.62 L428.22 220.21 L428.78 219.84 L429.33 219.49 L429.89 219.16 L430.45 218.87 L431.01 218.60 L431.56 218.36 L432.12 218.14 L432.68 217.96 L433.24 217.80 L433.80 217.67 L434.35 217.57 L434.91 217.50 L435.47 217.46 L436.03 217.45 L436.58 217.46 L437.14 217.50 L437.70 217.57 L438.26 217.67 L438.81 217.80 L439.37 217.96 L439.93 218.14 L440.49 218.36 L441.05 218.60 L441.60 218.87 L442.16 219.16 L442.72 219.49 L443.28 219.84 L443.83 220.21 L444.39 220.62 L444.95 221.05 L445.51 221.51 L446.06 221.99 L446.62 222.50 L447.18 223.03 L447.74 223.59 L448.30 224.17 L448.85 224.78 L449.41 225.41 L449.97 226.06 L450.53 226.73 L451.08 227.43 L451.64 228.15 L452.20 228.89 L452.76 229.65 L453.31 230.43 L453.87 231.24 L454.43 232.06 L454.99 232.89 L455.55 233.75 L456.10 234.63 L456.66 235.52 L457.22 236.42 L457.78 237.35 L458.33 238.28 L458.89 239.24 L459.45 240.20 L460.01 241.18 L460.56 242.17 L461.12 243.17 L461.68 244.19 L462.24 245.21 L462.80 246.24 L463.35 247.29 L463.91 248.34 L464.47 249.39 L465.03 250.46 L465.58 251.53 L466.14 252.60 L466.70 253.68 L467.26 254.77 L467.81 255.85 L468.37 256.94 L468.93 258.03 L469.49 259.12 L470.05 260.21 L470.60 261.30 L471.16 262.39 L471.72 263.48 L472.28 264.56 L472.83 265.64 L473.39 266.72 L473.95 267.79 L474.51 268.85 L475.06 269.91 L475.62 270.96 L476.18 272.00 L476.74 273.03 L477.30 274.06 L477.85 275.07 L478.41 276.07 L478.97 277.07 L479.53 278.04 L480.08 279.01 L480.64 279.96 L481.20 280.90 L481.76 281.82 L482.32 282.73 L482.87 283.62 L483.43 284.49 L483.99 285.35 L484.55 286.19 L485.10 287.01 L485.66 287.81 L486.22 288.59 L486.78 289.35 L487.33 290.09 L487.89 290.81 L488.45 291.51 L489.01 292.19 L489.57 292.84 L490.12 293.47 L490.68 294.08 L491.24 294.66 L491.80 295.22 L492.35 295.75 L492.91 296.26 L493.47 296.74 L494.03 297.20 L494.58 297.63 L495.14 298.03 L495.70 298.41 L496.26 298.76 L496.82 299.08 L497.37 299.38 L497.93 299.65 L498.49 299.89 L499.05 300.10 L499.60 300.29 L500.16 300.44 L500.72 300.57 L501.28 300.67 L501.83 300.74 L502.39 300.79 L502.95 300.80 L503.51 300.79 L504.07 300.74 L504.62 300.67 L505.18 300.57 L505.74 300.44 L506.30 300.29 L506.85 300.10 L507.41 299.89 L507.97 299.65 L508.53 299.38 L509.08 299.08 L509.64 298.76 L510.20 298.41 L510.76 298.03 L511.32 297.63 L511.87 297.20 L512.43 296.74 L512.99 296.26 L513.55 295.75 L514.10 295.22 L514.66 294.66 L515.22 294.08 L515.78 293.47 L516.33 292.84 L516.89 292.19 L517.45 291.51 L518.01 290.81 L518.57 290.09 L519.12 289.35 L519.68 288.59 L520.24 287.81 L520.80 287.01 L521.35 286.19 L521.91 285.35 L522.47 284.49 L523.03 283.62 L523.58 282.73 L524.14 281.82 L524.70 280.90 L525.26 279.96 L525.82 279.01 L526.37 278.04 L526.93 277.07 L527.49 276.07 L528.05 275.07 L528.60 274.06 L529.16 273.03 L529.72 272.00 L530.28 270.96 L530.84 269.91 L531.39 268.85 L531.95 267.79 L532.51 266.72 L533.07 265.64 L533.62 264.56 L534.18 263.48 L534.74 262.39 L535.30 261.30 L535.85 260.21 L536.41 259.12 L536.97 258.03 L537.53 256.94 L538.09 255.85 L538.64 254.77 L539.20 253.68 L539.76 252.60 L540.32 251.53 L540.87 250.46 L541.43 249.39 L541.99 248.34 L542.55 247.29 L543.10 246.24 L543.66 245.21 L544.22 244.19 L544.78 243.17 L545.34 242.17 L545.89 241.18 L546.45 240.20 L547.01 239.24 L547.57 238.28 L548.12 237.35 L548.68 236.42 L549.24 235.52 L549.80 234.63 L550.35 233.75 L550.91 232.89 L551.47 232.06 L552.03 231.24 L552.59 230.43 L553.14 229.65 L553.70 228.89 L554.26 228.15 L554.82 227.43 L555.37 226.73 L555.93 226.06 L556.49 225.41 L557.05 224.78 L557.60 224.17 L558.16 223.59 L558.72 223.03 L559.28 222.50 L559.84 221.99 L560.39 221.51 L560.95 221.05 L561.51 220.62 L562.07 220.21 L562.62 219.84 L563.18 219.49 L563.74 219.16 L564.30 218.87 L564.85 218.60 L565.41 218.36 L565.97 218.14 L566.53 217.96 L567.09 217.80 L567.64 217.67 L568.20 217.57 L568.76 217.50 L569.32 217.46 L569.87 217.45 L570.43 217.46 L570.99 217.50 L571.55 217.57 L572.10 217.67 L572.66 217.80 L573.22 217.96 L573.78 218.14 L574.34 218.36 L574.89 218.60 L575.45 218.87 L576.01 219.16 L576.57 219.49 L577.12 219.84 L577.68 220.21 L578.24 220.62 L578.80 221.05 L579.35 221.51 L579.91 221.99 L580.47 222.50 L581.03 223.03 L581.59 223.59 L582.14 224.17 L582.70 224.78 L583.26 225.41 L583.82 226.06 L584.37 226.73 L584.93 227.43 L585.49 228.15 L586.05 228.89 L586.61 229.65 L587.16 230.43 L587.72 231.24 L588.28 232.06 L588.84 232.89 L589.39 233.75 L589.95 234.63 L590.51 235.52 L591.07 236.42 L591.62 237.35 L592.18 238.28 L592.74 239.24 L593.30 240.20 L593.86 241.18 L594.41 242.17 L594.97 243.17 L595.53 244.19 L596.09 245.21 L596.64 246.24 L597.20 247.29 L597.76 248.34 L598.32 249.39 L598.87 250.46 L599.43 251.53 L599.99 252.60 L600.55 253.68 L601.11 254.77 L601.66 255.85 L602.22 256.94 L602.78 258.03 L603.34 259.12 L603.89 260.21 L604.45 261.30 L605.01 262.39 L605.57 263.48 L606.12 264.56 L606.68 265.64 L607.24 266.72 L607.80 267.79 L608.36 268.85 L608.91 269.91 L609.47 270.96 L610.03 272.00 L610.59 273.03 L611.14 274.06 L611.70 275.07 L612.26 276.07 L612.82 277.07 L613.37 278.04 L613.93 279.01 L614.49 279.96 L615.05 280.90 L615.61 281.82 L616.16 282.73 L616.72 283.62 L617.28 284.49 L617.84 285.35 L618.39 286.19 L618.95 287.01 L619.51 287.81 L620.07 288.59 L620.62 289.35 L621.18 290.09 L621.74 290.81 L622.30 291.51 L622.86 292.19 L623.41 292.84 L623.97 293.47 L624.53 294.08" stroke="#f53030" stroke-width="1.2" fill="none"/>
<rect x="207.4" y="202.4" width="90.8" height="11.8" rx="1.5" fill="#fff" fill-opacity="0.85" stroke="#d0d0d0" stroke-width="0.7"/>
<line x1="209.4" y1="207.3" x2="223.3" y2="207.3" stroke="#f53030" stroke-width="1.2"/>
<text x="228.4" y="210.0" style='font-family:"DejaVu Sans",sans-serif' font-size="7.2" fill="#2a2a2a" textLength="66.6" lengthAdjust="spacingAndGlyphs">Sample 1-Day Curve</text>
<text x="313.7" y="214.2" style='font-family:"Liberation Sans",Arial,sans-serif' font-size="13.3" fill="#1e1e2a" textLength="223.2" lengthAdjust="spacingAndGlyphs">Calculate Frequency Power Spectrum</text>
</svg>
</body></html>
